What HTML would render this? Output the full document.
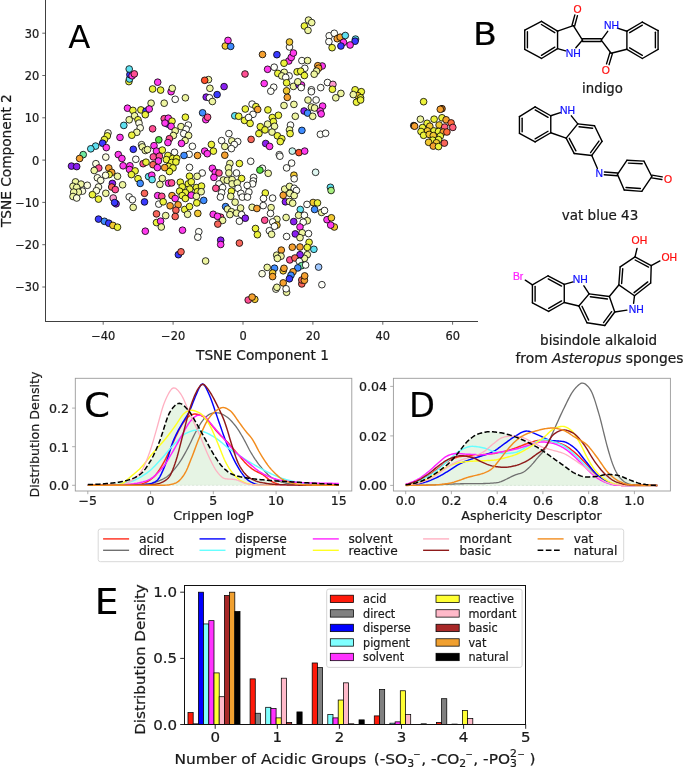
<!DOCTYPE html>
<html><head><meta charset="utf-8"><title>Figure</title>
<style>
html,body{margin:0;padding:0;background:#fff;}
body{width:685px;height:769px;overflow:hidden;font-family:'DejaVu Sans','Liberation Sans',sans-serif;}
svg{display:block;font-family:'DejaVu Sans','Liberation Sans',sans-serif;}
svg text{stroke-width:0.22px;}
.tx{stroke:#1a1a1a;}
</style></head><body>
<svg width="685" height="769" viewBox="0 0 685 769">
<rect width="685" height="769" fill="#fff"/>
<g id="panelA">
<line x1="45.5" y1="0" x2="45.5" y2="321.9" stroke="#404040" stroke-width="1"/>
<line x1="45.1" y1="321.5" x2="478" y2="321.5" stroke="#404040" stroke-width="1"/>
<line x1="103.2" y1="321.5" x2="103.2" y2="324.7" stroke="#404040" stroke-width="0.8"/>
<text class="tx" transform="translate(103.24,339.90)" font-size="11.4" text-anchor="middle" fill="#1a1a1a">−40</text>
<line x1="173.1" y1="321.5" x2="173.1" y2="324.7" stroke="#404040" stroke-width="0.8"/>
<text class="tx" transform="translate(173.12,339.90)" font-size="11.4" text-anchor="middle" fill="#1a1a1a">−20</text>
<line x1="243.0" y1="321.5" x2="243.0" y2="324.7" stroke="#404040" stroke-width="0.8"/>
<text class="tx" transform="translate(243.00,339.90)" font-size="11.4" text-anchor="middle" fill="#1a1a1a">0</text>
<line x1="312.9" y1="321.5" x2="312.9" y2="324.7" stroke="#404040" stroke-width="0.8"/>
<text class="tx" transform="translate(312.88,339.90)" font-size="11.4" text-anchor="middle" fill="#1a1a1a">20</text>
<line x1="382.8" y1="321.5" x2="382.8" y2="324.7" stroke="#404040" stroke-width="0.8"/>
<text class="tx" transform="translate(382.76,339.90)" font-size="11.4" text-anchor="middle" fill="#1a1a1a">40</text>
<line x1="452.6" y1="321.5" x2="452.6" y2="324.7" stroke="#404040" stroke-width="0.8"/>
<text class="tx" transform="translate(452.64,339.90)" font-size="11.4" text-anchor="middle" fill="#1a1a1a">60</text>
<line x1="42.3" y1="287.0" x2="45.5" y2="287.0" stroke="#404040" stroke-width="0.8"/>
<text class="tx" transform="translate(39.30,291.40)" font-size="11.4" text-anchor="end" fill="#1a1a1a">−30</text>
<line x1="42.3" y1="244.7" x2="45.5" y2="244.7" stroke="#404040" stroke-width="0.8"/>
<text class="tx" transform="translate(39.30,249.10)" font-size="11.4" text-anchor="end" fill="#1a1a1a">−20</text>
<line x1="42.3" y1="202.4" x2="45.5" y2="202.4" stroke="#404040" stroke-width="0.8"/>
<text class="tx" transform="translate(39.30,206.80)" font-size="11.4" text-anchor="end" fill="#1a1a1a">−10</text>
<line x1="42.3" y1="160.1" x2="45.5" y2="160.1" stroke="#404040" stroke-width="0.8"/>
<text class="tx" transform="translate(39.30,164.50)" font-size="11.4" text-anchor="end" fill="#1a1a1a">0</text>
<line x1="42.3" y1="117.8" x2="45.5" y2="117.8" stroke="#404040" stroke-width="0.8"/>
<text class="tx" transform="translate(39.30,122.20)" font-size="11.4" text-anchor="end" fill="#1a1a1a">10</text>
<line x1="42.3" y1="75.5" x2="45.5" y2="75.5" stroke="#404040" stroke-width="0.8"/>
<text class="tx" transform="translate(39.30,79.90)" font-size="11.4" text-anchor="end" fill="#1a1a1a">20</text>
<line x1="42.3" y1="33.2" x2="45.5" y2="33.2" stroke="#404040" stroke-width="0.8"/>
<text class="tx" transform="translate(39.30,37.60)" font-size="11.4" text-anchor="end" fill="#1a1a1a">30</text>
<text class="tx" transform="translate(262.50,359.90) scale(1.015,1)" font-size="13.5" text-anchor="middle" fill="#1a1a1a">TSNE Component 1</text>
<text class="tx" transform="translate(11.40,160.60) rotate(-90) scale(1.015,1)" font-size="13.5" text-anchor="middle" fill="#1a1a1a">TSNE Component 2</text>
<text x="68.3" y="47.6" font-size="32.3" fill="#000">A</text>
<g stroke="#000" stroke-width="0.8">
<circle cx="128.9" cy="81.6" r="3.35" fill="#ecf23c"/>
<circle cx="129.5" cy="79.0" r="3.35" fill="#5fe0f0"/>
<circle cx="129.9" cy="74.6" r="3.35" fill="#3a3aff"/>
<circle cx="132.1" cy="75.8" r="3.35" fill="#ff3aee"/>
<circle cx="134.3" cy="73.9" r="3.35" fill="#ff4f94"/>
<circle cx="129.2" cy="69.0" r="3.35" fill="#5fe0f0"/>
<circle cx="127.5" cy="108.2" r="3.35" fill="#ff3aee"/>
<circle cx="132.9" cy="110.4" r="3.35" fill="#ecf23c"/>
<circle cx="140.9" cy="109.9" r="3.35" fill="#ecf23c"/>
<circle cx="146.0" cy="111.1" r="3.35" fill="#3a3aff"/>
<circle cx="145.3" cy="114.7" r="3.35" fill="#ecf23c"/>
<circle cx="134.6" cy="115.8" r="3.35" fill="#eef5a0"/>
<circle cx="129.2" cy="119.8" r="3.35" fill="#eef5a0"/>
<circle cx="138.0" cy="119.8" r="3.35" fill="#ecf23c"/>
<circle cx="139.0" cy="123.1" r="3.35" fill="#fbfde0"/>
<circle cx="140.2" cy="127.9" r="3.35" fill="#fbfde0"/>
<circle cx="136.8" cy="132.3" r="3.35" fill="#eef5a0"/>
<circle cx="131.8" cy="135.2" r="3.35" fill="#ecf23c"/>
<circle cx="123.8" cy="125.4" r="3.35" fill="#5fe0f0"/>
<circle cx="108.0" cy="133.0" r="3.35" fill="#fbfde0"/>
<circle cx="107.3" cy="135.9" r="3.35" fill="#ecf23c"/>
<circle cx="104.4" cy="139.6" r="3.35" fill="#ecf23c"/>
<circle cx="102.6" cy="143.2" r="3.35" fill="#3a3aff"/>
<circle cx="106.3" cy="147.6" r="3.35" fill="#ff3aee"/>
<circle cx="95.6" cy="146.1" r="3.35" fill="#5fe0f0"/>
<circle cx="90.8" cy="148.8" r="3.35" fill="#5fe0f0"/>
<circle cx="120.0" cy="137.4" r="3.35" fill="#ff3aee"/>
<circle cx="133.3" cy="149.3" r="3.35" fill="#3a3aff"/>
<circle cx="141.6" cy="144.7" r="3.35" fill="#fbfde0"/>
<circle cx="142.3" cy="146.9" r="3.35" fill="#eef5a0"/>
<circle cx="145.3" cy="150.5" r="3.35" fill="#eef5a0"/>
<circle cx="83.2" cy="154.6" r="3.35" fill="#70e8a0"/>
<circle cx="79.6" cy="158.5" r="3.35" fill="#f5a030"/>
<circle cx="105.8" cy="157.1" r="3.35" fill="#fbfde0"/>
<circle cx="118.3" cy="154.6" r="3.35" fill="#ff3aee"/>
<circle cx="121.9" cy="158.5" r="3.35" fill="#ff3aee"/>
<circle cx="135.8" cy="159.3" r="3.35" fill="#fefffa"/>
<circle cx="71.5" cy="166.1" r="3.35" fill="#8a20f0"/>
<circle cx="76.7" cy="166.6" r="3.35" fill="#8a20f0"/>
<circle cx="95.9" cy="163.7" r="3.35" fill="#fbfde0"/>
<circle cx="98.8" cy="168.0" r="3.35" fill="#ff4f94"/>
<circle cx="94.2" cy="170.5" r="3.35" fill="#eef5a0"/>
<circle cx="108.8" cy="168.0" r="3.35" fill="#f5a030"/>
<circle cx="111.7" cy="172.4" r="3.35" fill="#f5a030"/>
<circle cx="109.1" cy="174.6" r="3.35" fill="#ecf23c"/>
<circle cx="105.6" cy="175.3" r="3.35" fill="#fbfde0"/>
<circle cx="117.5" cy="176.3" r="3.35" fill="#eef5a0"/>
<circle cx="97.4" cy="177.8" r="3.35" fill="#fbfde0"/>
<circle cx="100.7" cy="180.4" r="3.35" fill="#fbfde0"/>
<circle cx="123.1" cy="165.8" r="3.35" fill="#ff3aee"/>
<circle cx="129.9" cy="165.8" r="3.35" fill="#ff3aee"/>
<circle cx="129.5" cy="169.5" r="3.35" fill="#ff3aee"/>
<circle cx="135.1" cy="170.9" r="3.35" fill="#ecf23c"/>
<circle cx="131.4" cy="174.6" r="3.35" fill="#ecf23c"/>
<circle cx="138.0" cy="178.7" r="3.35" fill="#ecf23c"/>
<circle cx="140.2" cy="183.4" r="3.35" fill="#3f8cff"/>
<circle cx="143.1" cy="163.7" r="3.35" fill="#ff4f94"/>
<circle cx="146.0" cy="162.2" r="3.35" fill="#ecf23c"/>
<circle cx="122.6" cy="184.8" r="3.35" fill="#eef5a0"/>
<circle cx="112.4" cy="183.4" r="3.35" fill="#8a20f0"/>
<circle cx="111.7" cy="187.0" r="3.35" fill="#f8655a"/>
<circle cx="115.3" cy="189.6" r="3.35" fill="#ff4f94"/>
<circle cx="113.2" cy="198.0" r="3.35" fill="#ff9ad0"/>
<circle cx="116.1" cy="203.8" r="3.35" fill="#8a20f0"/>
<circle cx="114.6" cy="202.6" r="3.35" fill="#3a3aff"/>
<circle cx="105.8" cy="193.3" r="3.35" fill="#eef5a0"/>
<circle cx="98.5" cy="187.0" r="3.35" fill="#fbfde0"/>
<circle cx="96.4" cy="190.7" r="3.35" fill="#fbfde0"/>
<circle cx="92.4" cy="194.7" r="3.35" fill="#ecf23c"/>
<circle cx="98.5" cy="199.1" r="3.35" fill="#ecf23c"/>
<circle cx="75.5" cy="181.9" r="3.35" fill="#eef5a0"/>
<circle cx="73.0" cy="186.3" r="3.35" fill="#eef5a0"/>
<circle cx="81.0" cy="184.1" r="3.35" fill="#eef5a0"/>
<circle cx="76.7" cy="187.4" r="3.35" fill="#eef5a0"/>
<circle cx="87.3" cy="185.3" r="3.35" fill="#fbfde0"/>
<circle cx="82.5" cy="191.1" r="3.35" fill="#fbfde0"/>
<circle cx="78.4" cy="192.1" r="3.35" fill="#eef5a0"/>
<circle cx="73.7" cy="192.1" r="3.35" fill="#eef5a0"/>
<circle cx="73.0" cy="196.5" r="3.35" fill="#eef5a0"/>
<circle cx="76.7" cy="198.0" r="3.35" fill="#fbfde0"/>
<circle cx="129.2" cy="196.9" r="3.35" fill="#fefffa"/>
<circle cx="132.4" cy="199.7" r="3.35" fill="#fefffa"/>
<circle cx="133.2" cy="207.4" r="3.35" fill="#eef5a0"/>
<circle cx="144.5" cy="193.3" r="3.35" fill="#f8655a"/>
<circle cx="144.5" cy="201.9" r="3.35" fill="#3a3aff"/>
<circle cx="98.5" cy="219.1" r="3.35" fill="#3a3aff"/>
<circle cx="104.4" cy="221.3" r="3.35" fill="#3f8cff"/>
<circle cx="108.8" cy="223.2" r="3.35" fill="#3a3aff"/>
<circle cx="112.9" cy="225.4" r="3.35" fill="#f2c832"/>
<circle cx="117.5" cy="227.2" r="3.35" fill="#ecf23c"/>
<circle cx="145.3" cy="231.2" r="3.35" fill="#ff3aee"/>
<circle cx="225.3" cy="46.0" r="3.35" fill="#f2c832"/>
<circle cx="230.7" cy="46.4" r="3.35" fill="#3f8cff"/>
<circle cx="228.0" cy="40.4" r="3.35" fill="#ff3aee"/>
<circle cx="245.0" cy="74.0" r="3.35" fill="#ff4f94"/>
<circle cx="157.7" cy="82.2" r="3.35" fill="#ff3aee"/>
<circle cx="152.6" cy="89.0" r="3.35" fill="#ecf23c"/>
<circle cx="160.6" cy="90.1" r="3.35" fill="#ecf23c"/>
<circle cx="171.1" cy="91.7" r="3.35" fill="#ff3aee"/>
<circle cx="172.3" cy="88.3" r="3.35" fill="#eef5a0"/>
<circle cx="208.5" cy="79.6" r="3.35" fill="#eef5a0"/>
<circle cx="204.7" cy="80.3" r="3.35" fill="#ff5028"/>
<circle cx="209.9" cy="88.3" r="3.35" fill="#eef5a0"/>
<circle cx="224.1" cy="86.6" r="3.35" fill="#8a20f0"/>
<circle cx="217.1" cy="94.6" r="3.35" fill="#3a3aff"/>
<circle cx="206.2" cy="97.1" r="3.35" fill="#8a20f0"/>
<circle cx="209.5" cy="97.8" r="3.35" fill="#fefffa"/>
<circle cx="185.4" cy="97.8" r="3.35" fill="#eef5a0"/>
<circle cx="175.2" cy="99.3" r="3.35" fill="#fefffa"/>
<circle cx="151.1" cy="103.2" r="3.35" fill="#eef5a0"/>
<circle cx="149.2" cy="109.0" r="3.35" fill="#ff3aee"/>
<circle cx="164.2" cy="103.2" r="3.35" fill="#eef5a0"/>
<circle cx="212.4" cy="101.5" r="3.35" fill="#eef5a0"/>
<circle cx="202.6" cy="112.8" r="3.35" fill="#3f8cff"/>
<circle cx="205.8" cy="119.7" r="3.35" fill="#ff3aee"/>
<circle cx="207.6" cy="117.2" r="3.35" fill="#ff4f94"/>
<circle cx="185.4" cy="117.2" r="3.35" fill="#ecf23c"/>
<circle cx="234.8" cy="115.8" r="3.35" fill="#5fe0f0"/>
<circle cx="238.7" cy="116.3" r="3.35" fill="#ecf23c"/>
<circle cx="245.3" cy="109.0" r="3.35" fill="#ecf23c"/>
<circle cx="244.5" cy="120.4" r="3.35" fill="#ecf23c"/>
<circle cx="167.9" cy="124.1" r="3.35" fill="#3a3aff"/>
<circle cx="164.2" cy="118.7" r="3.35" fill="#ff4f94"/>
<circle cx="168.3" cy="118.2" r="3.35" fill="#ff3aee"/>
<circle cx="172.0" cy="121.2" r="3.35" fill="#ecf23c"/>
<circle cx="165.0" cy="123.1" r="3.35" fill="#ff3aee"/>
<circle cx="171.1" cy="126.3" r="3.35" fill="#ff3aee"/>
<circle cx="152.6" cy="128.8" r="3.35" fill="#ff4f94"/>
<circle cx="181.0" cy="126.6" r="3.35" fill="#eef5a0"/>
<circle cx="188.3" cy="125.1" r="3.35" fill="#fefffa"/>
<circle cx="186.2" cy="129.2" r="3.35" fill="#fefffa"/>
<circle cx="175.2" cy="130.9" r="3.35" fill="#eef5a0"/>
<circle cx="183.7" cy="133.6" r="3.35" fill="#fefffa"/>
<circle cx="188.6" cy="135.5" r="3.35" fill="#eef5a0"/>
<circle cx="173.4" cy="135.5" r="3.35" fill="#eef5a0"/>
<circle cx="169.4" cy="138.7" r="3.35" fill="#ff4f94"/>
<circle cx="167.9" cy="142.6" r="3.35" fill="#ff3aee"/>
<circle cx="185.1" cy="140.6" r="3.35" fill="#eef5a0"/>
<circle cx="181.5" cy="143.4" r="3.35" fill="#ff3aee"/>
<circle cx="158.8" cy="139.8" r="3.35" fill="#55e040"/>
<circle cx="154.0" cy="145.7" r="3.35" fill="#ff3aee"/>
<circle cx="156.5" cy="151.1" r="3.35" fill="#ff3aee"/>
<circle cx="162.3" cy="150.1" r="3.35" fill="#ecf23c"/>
<circle cx="147.5" cy="149.6" r="3.35" fill="#eef5a0"/>
<circle cx="192.4" cy="146.3" r="3.35" fill="#fefffa"/>
<circle cx="228.9" cy="133.6" r="3.35" fill="#fefffa"/>
<circle cx="221.6" cy="140.6" r="3.35" fill="#fefffa"/>
<circle cx="231.8" cy="140.9" r="3.35" fill="#eef5a0"/>
<circle cx="237.7" cy="141.6" r="3.35" fill="#fefffa"/>
<circle cx="234.3" cy="144.5" r="3.35" fill="#fefffa"/>
<circle cx="224.8" cy="146.4" r="3.35" fill="#eef5a0"/>
<circle cx="231.4" cy="148.6" r="3.35" fill="#fefffa"/>
<circle cx="211.4" cy="144.5" r="3.35" fill="#ecf23c"/>
<circle cx="213.4" cy="151.1" r="3.35" fill="#ecf23c"/>
<circle cx="204.7" cy="151.1" r="3.35" fill="#ff3aee"/>
<circle cx="207.3" cy="153.7" r="3.35" fill="#ff3aee"/>
<circle cx="174.5" cy="152.3" r="3.35" fill="#fefffa"/>
<circle cx="189.1" cy="154.3" r="3.35" fill="#fefffa"/>
<circle cx="184.0" cy="155.5" r="3.35" fill="#3f8cff"/>
<circle cx="197.5" cy="155.5" r="3.35" fill="#f5a030"/>
<circle cx="224.8" cy="155.2" r="3.35" fill="#f5a030"/>
<circle cx="167.9" cy="155.5" r="3.35" fill="#ecf23c"/>
<circle cx="172.7" cy="158.4" r="3.35" fill="#ecf23c"/>
<circle cx="176.7" cy="158.4" r="3.35" fill="#ecf23c"/>
<circle cx="166.4" cy="159.6" r="3.35" fill="#ecf23c"/>
<circle cx="171.6" cy="162.5" r="3.35" fill="#ecf23c"/>
<circle cx="175.9" cy="162.0" r="3.35" fill="#ecf23c"/>
<circle cx="168.6" cy="166.4" r="3.35" fill="#ecf23c"/>
<circle cx="173.0" cy="167.9" r="3.35" fill="#ecf23c"/>
<circle cx="169.4" cy="171.5" r="3.35" fill="#ecf23c"/>
<circle cx="153.3" cy="156.9" r="3.35" fill="#ff4f94"/>
<circle cx="159.4" cy="156.2" r="3.35" fill="#ff4f94"/>
<circle cx="158.4" cy="161.0" r="3.35" fill="#ff3aee"/>
<circle cx="153.0" cy="164.7" r="3.35" fill="#f8655a"/>
<circle cx="157.4" cy="167.6" r="3.35" fill="#ff3aee"/>
<circle cx="164.7" cy="167.6" r="3.35" fill="#f5a030"/>
<circle cx="189.5" cy="167.4" r="3.35" fill="#fefffa"/>
<circle cx="202.2" cy="173.0" r="3.35" fill="#fefffa"/>
<circle cx="197.1" cy="176.3" r="3.35" fill="#eef5a0"/>
<circle cx="189.5" cy="176.2" r="3.35" fill="#ecf23c"/>
<circle cx="212.4" cy="168.3" r="3.35" fill="#ff3aee"/>
<circle cx="215.3" cy="172.3" r="3.35" fill="#ff3aee"/>
<circle cx="219.0" cy="173.0" r="3.35" fill="#ff4f94"/>
<circle cx="213.9" cy="177.4" r="3.35" fill="#ff3aee"/>
<circle cx="239.4" cy="163.5" r="3.35" fill="#ecf23c"/>
<circle cx="229.9" cy="163.5" r="3.35" fill="#eef5a0"/>
<circle cx="228.5" cy="167.9" r="3.35" fill="#eef5a0"/>
<circle cx="236.5" cy="173.0" r="3.35" fill="#fefffa"/>
<circle cx="228.9" cy="173.0" r="3.35" fill="#eef5a0"/>
<circle cx="241.6" cy="178.5" r="3.35" fill="#ecf23c"/>
<circle cx="148.6" cy="176.6" r="3.35" fill="#5fe0f0"/>
<circle cx="151.8" cy="175.2" r="3.35" fill="#ff3aee"/>
<circle cx="152.1" cy="179.6" r="3.35" fill="#5fe0f0"/>
<circle cx="162.3" cy="178.5" r="3.35" fill="#eef5a0"/>
<circle cx="159.9" cy="184.4" r="3.35" fill="#eef5a0"/>
<circle cx="168.6" cy="183.2" r="3.35" fill="#ff3aee"/>
<circle cx="171.6" cy="182.9" r="3.35" fill="#ff4f94"/>
<circle cx="180.3" cy="182.2" r="3.35" fill="#ecf23c"/>
<circle cx="188.3" cy="183.9" r="3.35" fill="#ecf23c"/>
<circle cx="191.3" cy="181.8" r="3.35" fill="#ecf23c"/>
<circle cx="182.2" cy="186.9" r="3.35" fill="#ecf23c"/>
<circle cx="189.8" cy="189.1" r="3.35" fill="#ecf23c"/>
<circle cx="196.4" cy="187.6" r="3.35" fill="#ecf23c"/>
<circle cx="201.5" cy="186.1" r="3.35" fill="#ecf23c"/>
<circle cx="179.6" cy="191.2" r="3.35" fill="#ecf23c"/>
<circle cx="185.4" cy="192.7" r="3.35" fill="#ecf23c"/>
<circle cx="197.4" cy="191.7" r="3.35" fill="#ecf23c"/>
<circle cx="201.2" cy="191.7" r="3.35" fill="#eef5a0"/>
<circle cx="182.2" cy="195.6" r="3.35" fill="#ecf23c"/>
<circle cx="185.4" cy="198.5" r="3.35" fill="#ecf23c"/>
<circle cx="191.3" cy="195.2" r="3.35" fill="#ff3aee"/>
<circle cx="196.4" cy="196.3" r="3.35" fill="#eef5a0"/>
<circle cx="223.4" cy="180.0" r="3.35" fill="#eef5a0"/>
<circle cx="227.3" cy="180.3" r="3.35" fill="#eef5a0"/>
<circle cx="232.1" cy="179.6" r="3.35" fill="#eef5a0"/>
<circle cx="219.0" cy="183.9" r="3.35" fill="#fefffa"/>
<circle cx="222.6" cy="187.6" r="3.35" fill="#fefffa"/>
<circle cx="232.1" cy="183.9" r="3.35" fill="#eef5a0"/>
<circle cx="237.2" cy="182.9" r="3.35" fill="#eef5a0"/>
<circle cx="238.0" cy="188.3" r="3.35" fill="#fefffa"/>
<circle cx="215.8" cy="188.3" r="3.35" fill="#ff4f94"/>
<circle cx="231.4" cy="191.2" r="3.35" fill="#ecf23c"/>
<circle cx="221.6" cy="192.7" r="3.35" fill="#fefffa"/>
<circle cx="230.7" cy="196.3" r="3.35" fill="#eef5a0"/>
<circle cx="240.9" cy="193.4" r="3.35" fill="#fefffa"/>
<circle cx="242.3" cy="197.1" r="3.35" fill="#fefffa"/>
<circle cx="220.4" cy="197.1" r="3.35" fill="#fefffa"/>
<circle cx="157.7" cy="195.6" r="3.35" fill="#ff3aee"/>
<circle cx="161.8" cy="196.3" r="3.35" fill="#ff4f94"/>
<circle cx="172.0" cy="195.6" r="3.35" fill="#f5a030"/>
<circle cx="175.2" cy="198.5" r="3.35" fill="#ff3aee"/>
<circle cx="158.8" cy="204.1" r="3.35" fill="#fefffa"/>
<circle cx="163.2" cy="201.8" r="3.35" fill="#ecf23c"/>
<circle cx="170.1" cy="205.8" r="3.35" fill="#f5a030"/>
<circle cx="178.1" cy="204.8" r="3.35" fill="#f5a030"/>
<circle cx="175.9" cy="210.2" r="3.35" fill="#f8655a"/>
<circle cx="175.2" cy="216.5" r="3.35" fill="#f8655a"/>
<circle cx="156.5" cy="213.9" r="3.35" fill="#f8655a"/>
<circle cx="165.7" cy="215.6" r="3.35" fill="#eef5a0"/>
<circle cx="156.5" cy="222.6" r="3.35" fill="#ecf23c"/>
<circle cx="160.6" cy="221.2" r="3.35" fill="#ff3aee"/>
<circle cx="161.3" cy="227.0" r="3.35" fill="#eef5a0"/>
<circle cx="184.7" cy="209.5" r="3.35" fill="#ecf23c"/>
<circle cx="189.5" cy="206.6" r="3.35" fill="#ecf23c"/>
<circle cx="196.8" cy="202.9" r="3.35" fill="#ecf23c"/>
<circle cx="187.6" cy="214.3" r="3.35" fill="#eef5a0"/>
<circle cx="197.8" cy="213.4" r="3.35" fill="#f2c832"/>
<circle cx="203.7" cy="200.4" r="3.35" fill="#3f8cff"/>
<circle cx="182.5" cy="230.2" r="3.35" fill="#ff3aee"/>
<circle cx="198.8" cy="231.7" r="3.35" fill="#fefffa"/>
<circle cx="197.8" cy="237.2" r="3.35" fill="#fefffa"/>
<circle cx="213.2" cy="214.3" r="3.35" fill="#ff3aee"/>
<circle cx="220.7" cy="217.2" r="3.35" fill="#ff4f94"/>
<circle cx="217.5" cy="216.3" r="3.35" fill="#ff3aee"/>
<circle cx="222.6" cy="220.4" r="3.35" fill="#eef5a0"/>
<circle cx="217.8" cy="224.1" r="3.35" fill="#f8655a"/>
<circle cx="225.6" cy="206.6" r="3.35" fill="#3f8cff"/>
<circle cx="227.5" cy="209.1" r="3.35" fill="#eef5a0"/>
<circle cx="231.4" cy="211.7" r="3.35" fill="#eef5a0"/>
<circle cx="229.9" cy="214.6" r="3.35" fill="#eef5a0"/>
<circle cx="236.5" cy="213.1" r="3.35" fill="#eef5a0"/>
<circle cx="240.6" cy="208.0" r="3.35" fill="#eef5a0"/>
<circle cx="235.1" cy="202.2" r="3.35" fill="#eef5a0"/>
<circle cx="241.6" cy="214.6" r="3.35" fill="#fefffa"/>
<circle cx="239.4" cy="221.2" r="3.35" fill="#fefffa"/>
<circle cx="245.3" cy="218.2" r="3.35" fill="#8a20f0"/>
<circle cx="220.7" cy="240.2" r="3.35" fill="#8a20f0"/>
<circle cx="220.7" cy="244.5" r="3.35" fill="#ff3aee"/>
<circle cx="239.4" cy="243.1" r="3.35" fill="#f8655a"/>
<circle cx="178.4" cy="254.7" r="3.35" fill="#3a3aff"/>
<circle cx="181.0" cy="251.8" r="3.35" fill="#f8655a"/>
<circle cx="205.6" cy="261.0" r="3.35" fill="#eef5a0"/>
<circle cx="304.4" cy="26.0" r="3.35" fill="#ecf23c"/>
<circle cx="308.5" cy="20.1" r="3.35" fill="#eef5a0"/>
<circle cx="311.7" cy="22.6" r="3.35" fill="#eef5a0"/>
<circle cx="308.0" cy="30.4" r="3.35" fill="#eef5a0"/>
<circle cx="329.2" cy="35.8" r="3.35" fill="#fefffa"/>
<circle cx="334.3" cy="33.3" r="3.35" fill="#fefffa"/>
<circle cx="328.9" cy="41.6" r="3.35" fill="#fefffa"/>
<circle cx="332.1" cy="47.7" r="3.35" fill="#ecf23c"/>
<circle cx="337.2" cy="38.7" r="3.35" fill="#f5a030"/>
<circle cx="340.2" cy="37.2" r="3.35" fill="#f5a030"/>
<circle cx="345.3" cy="35.5" r="3.35" fill="#5fe0f0"/>
<circle cx="343.5" cy="42.3" r="3.35" fill="#ff3aee"/>
<circle cx="340.9" cy="46.0" r="3.35" fill="#3a3aff"/>
<circle cx="289.5" cy="47.0" r="3.35" fill="#fefffa"/>
<circle cx="289.5" cy="42.0" r="3.35" fill="#f2c832"/>
<circle cx="262.5" cy="54.5" r="3.35" fill="#f5a030"/>
<circle cx="276.9" cy="54.7" r="3.35" fill="#3a3aff"/>
<circle cx="288.8" cy="61.0" r="3.35" fill="#ff3aee"/>
<circle cx="291.3" cy="57.4" r="3.35" fill="#ff3aee"/>
<circle cx="293.4" cy="53.0" r="3.35" fill="#ff3aee"/>
<circle cx="284.0" cy="63.2" r="3.35" fill="#ecf23c"/>
<circle cx="301.9" cy="60.6" r="3.35" fill="#fefffa"/>
<circle cx="307.6" cy="60.6" r="3.35" fill="#eef5a0"/>
<circle cx="304.8" cy="68.3" r="3.35" fill="#fefffa"/>
<circle cx="297.1" cy="71.8" r="3.35" fill="#ecf23c"/>
<circle cx="300.7" cy="71.2" r="3.35" fill="#ecf23c"/>
<circle cx="304.4" cy="75.5" r="3.35" fill="#ecf23c"/>
<circle cx="267.6" cy="69.3" r="3.35" fill="#ff3aee"/>
<circle cx="274.2" cy="67.2" r="3.35" fill="#fefffa"/>
<circle cx="277.8" cy="73.4" r="3.35" fill="#ecf23c"/>
<circle cx="284.2" cy="72.3" r="3.35" fill="#eef5a0"/>
<circle cx="281.8" cy="75.9" r="3.35" fill="#eef5a0"/>
<circle cx="289.1" cy="75.9" r="3.35" fill="#fefffa"/>
<circle cx="285.7" cy="77.4" r="3.35" fill="#fefffa"/>
<circle cx="322.2" cy="66.0" r="3.35" fill="#ff3aee"/>
<circle cx="317.8" cy="65.7" r="3.35" fill="#f5a030"/>
<circle cx="318.6" cy="68.2" r="3.35" fill="#f5a030"/>
<circle cx="316.5" cy="71.1" r="3.35" fill="#eef5a0"/>
<circle cx="314.2" cy="74.2" r="3.35" fill="#eef5a0"/>
<circle cx="264.2" cy="83.5" r="3.35" fill="#ff3aee"/>
<circle cx="273.7" cy="87.2" r="3.35" fill="#fefffa"/>
<circle cx="270.8" cy="91.2" r="3.35" fill="#fefffa"/>
<circle cx="286.6" cy="82.8" r="3.35" fill="#ecf23c"/>
<circle cx="286.6" cy="90.8" r="3.35" fill="#f2c832"/>
<circle cx="287.3" cy="97.4" r="3.35" fill="#f5a030"/>
<circle cx="293.4" cy="86.4" r="3.35" fill="#eef5a0"/>
<circle cx="298.9" cy="84.7" r="3.35" fill="#8a20f0"/>
<circle cx="301.5" cy="85.0" r="3.35" fill="#ff3aee"/>
<circle cx="297.8" cy="81.8" r="3.35" fill="#eef5a0"/>
<circle cx="301.2" cy="87.6" r="3.35" fill="#fefffa"/>
<circle cx="311.4" cy="89.8" r="3.35" fill="#fefffa"/>
<circle cx="311.4" cy="91.7" r="3.35" fill="#fefffa"/>
<circle cx="320.7" cy="87.6" r="3.35" fill="#fefffa"/>
<circle cx="327.5" cy="82.5" r="3.35" fill="#fefffa"/>
<circle cx="332.9" cy="84.4" r="3.35" fill="#ff9ad0"/>
<circle cx="332.4" cy="89.3" r="3.35" fill="#ecf23c"/>
<circle cx="340.9" cy="93.4" r="3.35" fill="#eef5a0"/>
<circle cx="335.8" cy="97.8" r="3.35" fill="#eef5a0"/>
<circle cx="308.0" cy="100.0" r="3.35" fill="#eef5a0"/>
<circle cx="316.1" cy="100.0" r="3.35" fill="#fefffa"/>
<circle cx="252.1" cy="104.1" r="3.35" fill="#fefffa"/>
<circle cx="255.9" cy="106.6" r="3.35" fill="#ecf23c"/>
<circle cx="257.7" cy="109.5" r="3.35" fill="#f5a030"/>
<circle cx="253.0" cy="114.3" r="3.35" fill="#fefffa"/>
<circle cx="248.6" cy="117.5" r="3.35" fill="#fefffa"/>
<circle cx="250.1" cy="123.4" r="3.35" fill="#ecf23c"/>
<circle cx="267.9" cy="109.9" r="3.35" fill="#ecf23c"/>
<circle cx="284.0" cy="105.5" r="3.35" fill="#eef5a0"/>
<circle cx="293.9" cy="104.4" r="3.35" fill="#eef5a0"/>
<circle cx="295.3" cy="116.3" r="3.35" fill="#eef5a0"/>
<circle cx="278.4" cy="115.3" r="3.35" fill="#ecf23c"/>
<circle cx="272.3" cy="117.5" r="3.35" fill="#ecf23c"/>
<circle cx="273.4" cy="121.6" r="3.35" fill="#ecf23c"/>
<circle cx="267.6" cy="124.1" r="3.35" fill="#eef5a0"/>
<circle cx="274.5" cy="126.3" r="3.35" fill="#eef5a0"/>
<circle cx="260.3" cy="126.7" r="3.35" fill="#ecf23c"/>
<circle cx="265.0" cy="129.9" r="3.35" fill="#ecf23c"/>
<circle cx="258.9" cy="133.6" r="3.35" fill="#ecf23c"/>
<circle cx="272.0" cy="132.1" r="3.35" fill="#eef5a0"/>
<circle cx="277.4" cy="135.8" r="3.35" fill="#ecf23c"/>
<circle cx="281.8" cy="138.7" r="3.35" fill="#ecf23c"/>
<circle cx="280.3" cy="141.6" r="3.35" fill="#ecf23c"/>
<circle cx="251.1" cy="139.4" r="3.35" fill="#f8655a"/>
<circle cx="265.7" cy="143.5" r="3.35" fill="#8a20f0"/>
<circle cx="269.6" cy="146.4" r="3.35" fill="#ff3aee"/>
<circle cx="290.5" cy="125.1" r="3.35" fill="#fefffa"/>
<circle cx="289.5" cy="129.9" r="3.35" fill="#eef5a0"/>
<circle cx="290.1" cy="133.6" r="3.35" fill="#ecf23c"/>
<circle cx="301.9" cy="130.4" r="3.35" fill="#3f8cff"/>
<circle cx="320.4" cy="134.3" r="3.35" fill="#fefffa"/>
<circle cx="325.6" cy="133.3" r="3.35" fill="#fefffa"/>
<circle cx="311.4" cy="107.0" r="3.35" fill="#eef5a0"/>
<circle cx="314.6" cy="108.0" r="3.35" fill="#eef5a0"/>
<circle cx="304.1" cy="111.0" r="3.35" fill="#8a20f0"/>
<circle cx="307.6" cy="113.1" r="3.35" fill="#3f8cff"/>
<circle cx="312.7" cy="116.3" r="3.35" fill="#eef5a0"/>
<circle cx="322.6" cy="106.1" r="3.35" fill="#ff3aee"/>
<circle cx="320.2" cy="111.0" r="3.35" fill="#ff3aee"/>
<circle cx="321.2" cy="113.9" r="3.35" fill="#ff3aee"/>
<circle cx="292.3" cy="151.1" r="3.35" fill="#c8f4ee"/>
<circle cx="298.9" cy="152.6" r="3.35" fill="#ff5028"/>
<circle cx="304.7" cy="151.1" r="3.35" fill="#ff3aee"/>
<circle cx="279.3" cy="154.7" r="3.35" fill="#fefffa"/>
<circle cx="279.9" cy="156.2" r="3.35" fill="#fefffa"/>
<circle cx="250.7" cy="161.3" r="3.35" fill="#fefffa"/>
<circle cx="291.6" cy="163.1" r="3.35" fill="#fefffa"/>
<circle cx="286.6" cy="167.9" r="3.35" fill="#fefffa"/>
<circle cx="262.4" cy="168.3" r="3.35" fill="#fefffa"/>
<circle cx="259.9" cy="170.1" r="3.35" fill="#55e040"/>
<circle cx="268.2" cy="173.3" r="3.35" fill="#eef5a0"/>
<circle cx="315.6" cy="172.3" r="3.35" fill="#e0f8f2"/>
<circle cx="293.9" cy="175.2" r="3.35" fill="#f2c832"/>
<circle cx="294.2" cy="178.8" r="3.35" fill="#fefffa"/>
<circle cx="253.6" cy="177.4" r="3.35" fill="#fefffa"/>
<circle cx="253.3" cy="181.0" r="3.35" fill="#fefffa"/>
<circle cx="252.6" cy="183.9" r="3.35" fill="#fefffa"/>
<circle cx="247.2" cy="185.4" r="3.35" fill="#fefffa"/>
<circle cx="248.9" cy="192.0" r="3.35" fill="#fefffa"/>
<circle cx="247.5" cy="197.1" r="3.35" fill="#fefffa"/>
<circle cx="330.4" cy="187.3" r="3.35" fill="#5fe0f0"/>
<circle cx="331.1" cy="190.5" r="3.35" fill="#a8f080"/>
<circle cx="265.3" cy="193.0" r="3.35" fill="#ecf23c"/>
<circle cx="263.5" cy="198.5" r="3.35" fill="#fefffa"/>
<circle cx="272.6" cy="198.1" r="3.35" fill="#fefffa"/>
<circle cx="284.7" cy="189.1" r="3.35" fill="#eef5a0"/>
<circle cx="289.5" cy="186.4" r="3.35" fill="#eef5a0"/>
<circle cx="294.2" cy="188.3" r="3.35" fill="#fefffa"/>
<circle cx="296.4" cy="190.5" r="3.35" fill="#fefffa"/>
<circle cx="289.8" cy="193.4" r="3.35" fill="#eef5a0"/>
<circle cx="294.2" cy="195.6" r="3.35" fill="#eef5a0"/>
<circle cx="283.2" cy="195.3" r="3.35" fill="#f5a030"/>
<circle cx="285.4" cy="201.8" r="3.35" fill="#8a20f0"/>
<circle cx="289.5" cy="201.5" r="3.35" fill="#eef5a0"/>
<circle cx="313.1" cy="202.5" r="3.35" fill="#f2c832"/>
<circle cx="252.1" cy="207.3" r="3.35" fill="#eef5a0"/>
<circle cx="256.9" cy="208.5" r="3.35" fill="#f5a030"/>
<circle cx="263.2" cy="205.6" r="3.35" fill="#fefffa"/>
<circle cx="271.1" cy="207.6" r="3.35" fill="#eef5a0"/>
<circle cx="270.5" cy="213.4" r="3.35" fill="#fefffa"/>
<circle cx="292.7" cy="203.2" r="3.35" fill="#eef5a0"/>
<circle cx="264.7" cy="220.2" r="3.35" fill="#ff4f94"/>
<circle cx="276.9" cy="219.3" r="3.35" fill="#eef5a0"/>
<circle cx="272.7" cy="221.9" r="3.35" fill="#fefffa"/>
<circle cx="276.9" cy="225.1" r="3.35" fill="#f2c832"/>
<circle cx="274.5" cy="226.3" r="3.35" fill="#fefffa"/>
<circle cx="255.5" cy="228.5" r="3.35" fill="#ecf23c"/>
<circle cx="257.4" cy="234.7" r="3.35" fill="#ecf23c"/>
<circle cx="269.4" cy="230.7" r="3.35" fill="#fefffa"/>
<circle cx="271.6" cy="234.3" r="3.35" fill="#eef5a0"/>
<circle cx="286.1" cy="217.5" r="3.35" fill="#eef5a0"/>
<circle cx="286.6" cy="236.5" r="3.35" fill="#fefffa"/>
<circle cx="300.3" cy="209.5" r="3.35" fill="#5fe0f0"/>
<circle cx="298.6" cy="215.3" r="3.35" fill="#eef5a0"/>
<circle cx="304.4" cy="215.3" r="3.35" fill="#fefffa"/>
<circle cx="307.3" cy="220.7" r="3.35" fill="#eef5a0"/>
<circle cx="303.2" cy="222.2" r="3.35" fill="#fefffa"/>
<circle cx="293.7" cy="221.6" r="3.35" fill="#8a20f0"/>
<circle cx="300.0" cy="227.0" r="3.35" fill="#ff3aee"/>
<circle cx="295.3" cy="233.9" r="3.35" fill="#8a20f0"/>
<circle cx="302.2" cy="232.8" r="3.35" fill="#eef5a0"/>
<circle cx="308.5" cy="233.6" r="3.35" fill="#fefffa"/>
<circle cx="300.0" cy="237.7" r="3.35" fill="#eef5a0"/>
<circle cx="307.0" cy="204.4" r="3.35" fill="#fefffa"/>
<circle cx="317.5" cy="202.9" r="3.35" fill="#ecf23c"/>
<circle cx="314.6" cy="209.5" r="3.35" fill="#3f8cff"/>
<circle cx="321.6" cy="212.4" r="3.35" fill="#eef5a0"/>
<circle cx="324.5" cy="210.5" r="3.35" fill="#fefffa"/>
<circle cx="327.0" cy="219.7" r="3.35" fill="#ff3aee"/>
<circle cx="331.4" cy="217.8" r="3.35" fill="#f2c832"/>
<circle cx="334.3" cy="227.0" r="3.35" fill="#f2c832"/>
<circle cx="330.7" cy="225.1" r="3.35" fill="#ff3aee"/>
<circle cx="309.1" cy="242.3" r="3.35" fill="#ecf23c"/>
<circle cx="307.3" cy="247.4" r="3.35" fill="#ecf23c"/>
<circle cx="313.9" cy="249.3" r="3.35" fill="#5fe0f0"/>
<circle cx="292.3" cy="247.2" r="3.35" fill="#f5a030"/>
<circle cx="300.0" cy="247.0" r="3.35" fill="#f5a030"/>
<circle cx="281.3" cy="250.1" r="3.35" fill="#f5a030"/>
<circle cx="276.7" cy="255.2" r="3.35" fill="#eef5a0"/>
<circle cx="281.0" cy="256.2" r="3.35" fill="#eef5a0"/>
<circle cx="277.4" cy="258.4" r="3.35" fill="#eef5a0"/>
<circle cx="307.3" cy="254.7" r="3.35" fill="#eef5a0"/>
<circle cx="304.4" cy="258.4" r="3.35" fill="#eef5a0"/>
<circle cx="300.0" cy="254.7" r="3.35" fill="#8a20f0"/>
<circle cx="289.8" cy="259.9" r="3.35" fill="#ff4f94"/>
<circle cx="294.9" cy="258.0" r="3.35" fill="#f8655a"/>
<circle cx="299.3" cy="261.3" r="3.35" fill="#fefffa"/>
<circle cx="301.5" cy="265.7" r="3.35" fill="#70e8a0"/>
<circle cx="305.6" cy="265.0" r="3.35" fill="#fefffa"/>
<circle cx="297.8" cy="267.9" r="3.35" fill="#3f8cff"/>
<circle cx="318.6" cy="267.1" r="3.35" fill="#a0c8ff"/>
<circle cx="267.2" cy="267.4" r="3.35" fill="#eef5a0"/>
<circle cx="274.5" cy="268.2" r="3.35" fill="#3f8cff"/>
<circle cx="262.1" cy="273.7" r="3.35" fill="#fbfde0"/>
<circle cx="272.6" cy="273.0" r="3.35" fill="#f2c832"/>
<circle cx="272.6" cy="276.6" r="3.35" fill="#f5a030"/>
<circle cx="283.2" cy="270.8" r="3.35" fill="#f2c832"/>
<circle cx="284.0" cy="268.3" r="3.35" fill="#f5a030"/>
<circle cx="293.0" cy="271.8" r="3.35" fill="#f5a030"/>
<circle cx="291.0" cy="275.2" r="3.35" fill="#3f8cff"/>
<circle cx="289.4" cy="278.8" r="3.35" fill="#3a3aff"/>
<circle cx="301.8" cy="283.9" r="3.35" fill="#f8655a"/>
<circle cx="301.8" cy="280.0" r="3.35" fill="#f8655a"/>
<circle cx="304.4" cy="280.3" r="3.35" fill="#f5a030"/>
<circle cx="304.7" cy="275.9" r="3.35" fill="#f5a030"/>
<circle cx="283.2" cy="282.9" r="3.35" fill="#f5a030"/>
<circle cx="321.9" cy="284.7" r="3.35" fill="#fefffa"/>
<circle cx="275.9" cy="289.1" r="3.35" fill="#fbfde0"/>
<circle cx="276.9" cy="287.3" r="3.35" fill="#eef5a0"/>
<circle cx="286.6" cy="292.3" r="3.35" fill="#eef5a0"/>
<circle cx="286.1" cy="288.8" r="3.35" fill="#fefffa"/>
<circle cx="248.2" cy="300.0" r="3.35" fill="#ff4f94"/>
<circle cx="254.8" cy="299.3" r="3.35" fill="#f2c832"/>
<circle cx="252.1" cy="297.1" r="3.35" fill="#f5a030"/>
<circle cx="355.5" cy="39.1" r="3.35" fill="#5fe0f0"/>
<circle cx="355.1" cy="41.2" r="3.35" fill="#3a3aff"/>
<circle cx="350.1" cy="45.0" r="3.35" fill="#ff3aee"/>
<circle cx="355.1" cy="89.8" r="3.35" fill="#ecf23c"/>
<circle cx="361.3" cy="91.7" r="3.35" fill="#ecf23c"/>
<circle cx="357.7" cy="95.6" r="3.35" fill="#f2c832"/>
<circle cx="353.3" cy="94.6" r="3.35" fill="#eef5a0"/>
<circle cx="360.6" cy="97.8" r="3.35" fill="#ecf23c"/>
<circle cx="356.5" cy="102.2" r="3.35" fill="#ecf23c"/>
<circle cx="360.6" cy="100.0" r="3.35" fill="#ecf23c"/>
<circle cx="423.6" cy="101.7" r="3.35" fill="#ecf23c"/>
<circle cx="442.0" cy="108.7" r="3.35" fill="#c07020"/>
<circle cx="440.3" cy="109.3" r="3.35" fill="#f5a030"/>
<circle cx="420.4" cy="119.2" r="3.35" fill="#eef5a0"/>
<circle cx="434.1" cy="119.2" r="3.35" fill="#ecf23c"/>
<circle cx="442.0" cy="117.8" r="3.35" fill="#ecf23c"/>
<circle cx="446.1" cy="119.8" r="3.35" fill="#f5a030"/>
<circle cx="451.1" cy="122.9" r="3.35" fill="#ff6a3c"/>
<circle cx="413.8" cy="125.6" r="3.35" fill="#303030"/>
<circle cx="414.6" cy="126.2" r="3.35" fill="#f5a030"/>
<circle cx="427.1" cy="123.3" r="3.35" fill="#ecf23c"/>
<circle cx="422.5" cy="127.6" r="3.35" fill="#ecf23c"/>
<circle cx="429.8" cy="126.2" r="3.35" fill="#f2c832"/>
<circle cx="439.1" cy="125.0" r="3.35" fill="#f2c832"/>
<circle cx="444.7" cy="127.1" r="3.35" fill="#ff5f7c"/>
<circle cx="452.8" cy="127.4" r="3.35" fill="#ff5f7c"/>
<circle cx="433.9" cy="130.9" r="3.35" fill="#ecf23c"/>
<circle cx="427.4" cy="130.9" r="3.35" fill="#f2c832"/>
<circle cx="438.5" cy="131.5" r="3.35" fill="#ecf23c"/>
<circle cx="443.2" cy="132.0" r="3.35" fill="#f5a030"/>
<circle cx="446.9" cy="132.0" r="3.35" fill="#ff6a3c"/>
<circle cx="421.0" cy="131.5" r="3.35" fill="#ecf23c"/>
<circle cx="423.6" cy="135.3" r="3.35" fill="#ecf23c"/>
<circle cx="429.2" cy="134.4" r="3.35" fill="#f2c832"/>
<circle cx="433.3" cy="135.6" r="3.35" fill="#f2c832"/>
<circle cx="440.3" cy="136.1" r="3.35" fill="#ecf23c"/>
<circle cx="438.5" cy="139.6" r="3.35" fill="#ecf23c"/>
<circle cx="432.7" cy="140.2" r="3.35" fill="#ecf23c"/>
<circle cx="428.6" cy="142.3" r="3.35" fill="#f2c832"/>
<circle cx="436.4" cy="142.8" r="3.35" fill="#f2c832"/>
<circle cx="444.4" cy="143.1" r="3.35" fill="#f8655a"/>
<circle cx="433.3" cy="146.1" r="3.35" fill="#f5a030"/>
<circle cx="438.5" cy="146.6" r="3.35" fill="#ecf23c"/>
</g>
</g>
<g id="panelB">
<g stroke="#000" stroke-width="1.4" stroke-linecap="round" fill="none">
<line x1="524.72" y1="30.22" x2="541.47" y2="21.35"/>
<line x1="541.47" y1="21.35" x2="557.57" y2="31.21"/>
<line x1="541.43" y1="24.49" x2="554.79" y2="32.68"/>
<line x1="557.57" y1="31.21" x2="557.57" y2="48.62"/>
<line x1="557.57" y1="48.62" x2="541.47" y2="58.48"/>
<line x1="554.79" y1="47.15" x2="541.43" y2="55.34"/>
<line x1="541.47" y1="58.48" x2="524.72" y2="49.28"/>
<line x1="524.72" y1="49.28" x2="524.72" y2="30.22"/>
<line x1="527.42" y1="47.68" x2="527.42" y2="31.82"/>
<line x1="557.57" y1="31.21" x2="573.34" y2="25.62"/>
<line x1="573.34" y1="25.62" x2="582.54" y2="40.08"/>
<line x1="582.54" y1="40.08" x2="575.83" y2="47.81"/>
<line x1="565.63" y1="50.87" x2="557.57" y2="48.62"/>
<line x1="572.03" y1="25.27" x2="574.84" y2="14.91"/>
<line x1="574.64" y1="25.98" x2="577.45" y2="15.61"/>
<line x1="582.54" y1="38.73" x2="601.26" y2="38.73"/>
<line x1="582.54" y1="41.43" x2="601.26" y2="41.43"/>
<line x1="601.26" y1="40.08" x2="607.70" y2="31.35"/>
<line x1="617.45" y1="28.20" x2="626.89" y2="31.21"/>
<line x1="626.89" y1="31.21" x2="626.89" y2="49.28"/>
<line x1="626.89" y1="49.28" x2="611.12" y2="53.22"/>
<line x1="611.12" y1="53.22" x2="601.26" y2="40.08"/>
<line x1="612.41" y1="53.61" x2="609.09" y2="64.67"/>
<line x1="609.82" y1="52.83" x2="606.51" y2="63.89"/>
<line x1="626.89" y1="31.21" x2="642.33" y2="22.01"/>
<line x1="629.64" y1="32.71" x2="642.33" y2="25.15"/>
<line x1="642.33" y1="22.01" x2="658.09" y2="30.55"/>
<line x1="658.09" y1="30.55" x2="658.09" y2="49.28"/>
<line x1="655.39" y1="32.15" x2="655.39" y2="47.68"/>
<line x1="658.09" y1="49.28" x2="642.33" y2="58.48"/>
<line x1="642.33" y1="58.48" x2="626.89" y2="49.28"/>
<line x1="642.33" y1="55.34" x2="629.64" y2="47.78"/>
</g>
<text x="577.61" y="12.94" font-family="'Liberation Sans',sans-serif" font-size="10.4" text-anchor="middle" fill="#ff0d0d" stroke="#ff0d0d" stroke-width="0.2">O</text>
<text x="573.34" y="56.63" font-family="'Liberation Sans',sans-serif" font-size="10.4" text-anchor="middle" fill="#1010ff" stroke="#1010ff" stroke-width="0.2">NH</text>
<text x="611.45" y="29.37" font-family="'Liberation Sans',sans-serif" font-size="10.4" text-anchor="middle" fill="#1010ff" stroke="#1010ff" stroke-width="0.2">NH</text>
<text x="605.86" y="73.72" font-family="'Liberation Sans',sans-serif" font-size="10.4" text-anchor="middle" fill="#ff0d0d" stroke="#ff0d0d" stroke-width="0.2">O</text>
<text class="tx" x="602.5" y="92.6" font-size="13.3" text-anchor="middle" fill="#1a1a1a">indigo</text>
<g stroke="#000" stroke-width="1.4" stroke-linecap="round" fill="none">
<line x1="535.11" y1="106.84" x2="550.77" y2="115.75"/>
<line x1="535.16" y1="109.98" x2="548.04" y2="117.31"/>
<line x1="550.77" y1="115.75" x2="550.77" y2="132.77"/>
<line x1="550.77" y1="132.77" x2="535.11" y2="141.95"/>
<line x1="548.02" y1="131.25" x2="535.12" y2="138.81"/>
<line x1="535.11" y1="141.95" x2="519.44" y2="133.31"/>
<line x1="519.44" y1="133.31" x2="519.44" y2="116.56"/>
<line x1="522.14" y1="131.71" x2="522.14" y2="118.16"/>
<line x1="519.44" y1="116.56" x2="535.11" y2="106.84"/>
<line x1="550.77" y1="115.75" x2="560.33" y2="112.57"/>
<line x1="571.35" y1="115.82" x2="577.77" y2="123.86"/>
<line x1="577.77" y1="123.86" x2="594.52" y2="125.75"/>
<line x1="579.06" y1="126.72" x2="592.63" y2="128.25"/>
<line x1="594.52" y1="125.75" x2="602.08" y2="141.41"/>
<line x1="602.08" y1="141.41" x2="591.82" y2="155.45"/>
<line x1="598.96" y1="141.11" x2="590.58" y2="152.57"/>
<line x1="591.82" y1="155.45" x2="574.26" y2="153.56"/>
<line x1="574.26" y1="153.56" x2="566.16" y2="138.17"/>
<line x1="575.91" y1="150.89" x2="569.30" y2="138.33"/>
<line x1="566.16" y1="138.17" x2="577.77" y2="123.86"/>
<line x1="550.77" y1="132.77" x2="566.16" y2="138.17"/>
<line x1="591.82" y1="155.45" x2="597.40" y2="168.41"/>
<line x1="604.47" y1="172.03" x2="617.57" y2="173.01"/>
<line x1="604.26" y1="174.72" x2="617.37" y2="175.70"/>
<line x1="617.47" y1="174.35" x2="626.92" y2="160.31"/>
<line x1="626.92" y1="160.31" x2="643.94" y2="161.12"/>
<line x1="628.39" y1="163.09" x2="642.21" y2="163.74"/>
<line x1="643.94" y1="161.12" x2="651.77" y2="176.52"/>
<line x1="651.77" y1="176.52" x2="641.78" y2="191.37"/>
<line x1="641.78" y1="191.37" x2="624.22" y2="190.02"/>
<line x1="640.39" y1="188.55" x2="626.03" y2="187.45"/>
<line x1="624.22" y1="190.02" x2="617.47" y2="174.35"/>
<line x1="651.99" y1="175.18" x2="662.28" y2="176.90"/>
<line x1="651.55" y1="177.85" x2="661.83" y2="179.56"/>
</g>
<text x="567.51" y="113.83" font-family="'Liberation Sans',sans-serif" font-size="10.4" text-anchor="middle" fill="#1010ff" stroke="#1010ff" stroke-width="0.2">NH</text>
<text x="599.38" y="176.75" font-family="'Liberation Sans',sans-serif" font-size="10.4" text-anchor="middle" fill="#1010ff" stroke="#1010ff" stroke-width="0.2">N</text>
<text x="667.97" y="182.96" font-family="'Liberation Sans',sans-serif" font-size="10.4" text-anchor="middle" fill="#ff0d0d" stroke="#ff0d0d" stroke-width="0.2">O</text>
<text class="tx" x="600" y="220.4" font-size="13.5" text-anchor="middle" fill="#1a1a1a">vat blue 43</text>
<g stroke="#000" stroke-width="1.4" stroke-linecap="round" fill="none">
<line x1="532.41" y1="284.95" x2="548.07" y2="275.77"/>
<line x1="548.07" y1="275.77" x2="564.27" y2="284.41"/>
<line x1="548.21" y1="278.90" x2="561.59" y2="286.04"/>
<line x1="564.27" y1="284.41" x2="564.27" y2="302.50"/>
<line x1="564.27" y1="302.50" x2="548.61" y2="311.42"/>
<line x1="561.55" y1="300.95" x2="548.66" y2="308.28"/>
<line x1="548.61" y1="311.42" x2="532.41" y2="302.77"/>
<line x1="532.41" y1="302.77" x2="532.41" y2="284.95"/>
<line x1="535.11" y1="301.17" x2="535.11" y2="286.55"/>
<line x1="532.41" y1="284.95" x2="525.27" y2="280.19"/>
<line x1="564.27" y1="284.41" x2="573.03" y2="281.85"/>
<line x1="583.88" y1="285.85" x2="589.12" y2="293.86"/>
<line x1="589.12" y1="293.86" x2="609.37" y2="296.56"/>
<line x1="590.35" y1="296.75" x2="607.43" y2="299.03"/>
<line x1="609.37" y1="296.56" x2="614.77" y2="311.96"/>
<line x1="614.77" y1="311.96" x2="604.78" y2="325.46"/>
<line x1="611.65" y1="311.64" x2="603.56" y2="322.57"/>
<line x1="604.78" y1="325.46" x2="586.96" y2="322.76"/>
<line x1="586.96" y1="322.76" x2="578.85" y2="306.02"/>
<line x1="588.69" y1="320.14" x2="581.98" y2="306.28"/>
<line x1="578.85" y1="306.02" x2="589.12" y2="293.86"/>
<line x1="564.27" y1="302.50" x2="578.85" y2="306.02"/>
<line x1="609.37" y1="296.56" x2="618.82" y2="284.95"/>
<line x1="618.82" y1="284.95" x2="634.49" y2="295.75"/>
<line x1="634.49" y1="295.75" x2="633.58" y2="303.30"/>
<line x1="626.93" y1="310.14" x2="614.77" y2="311.96"/>
<line x1="618.82" y1="284.95" x2="620.17" y2="266.86"/>
<line x1="621.63" y1="283.56" x2="622.75" y2="268.65"/>
<line x1="620.17" y1="266.86" x2="635.03" y2="256.87"/>
<line x1="635.03" y1="256.87" x2="651.23" y2="265.51"/>
<line x1="635.17" y1="260.00" x2="648.55" y2="267.14"/>
<line x1="651.23" y1="265.51" x2="650.69" y2="283.06"/>
<line x1="650.69" y1="283.06" x2="634.49" y2="295.75"/>
<line x1="647.76" y1="281.92" x2="634.08" y2="292.64"/>
<line x1="635.03" y1="256.87" x2="637.05" y2="248.42"/>
<line x1="651.23" y1="265.51" x2="659.94" y2="260.98"/>
</g>
<text x="518.09" y="279.51" font-family="'Liberation Sans',sans-serif" font-size="10.4" text-anchor="middle" fill="#ff22ff" stroke="#ff22ff" stroke-width="0.2">Br</text>
<text x="580.21" y="283.29" font-family="'Liberation Sans',sans-serif" font-size="10.4" text-anchor="middle" fill="#1010ff" stroke="#1010ff" stroke-width="0.2">NH</text>
<text x="636.38" y="313.27" font-family="'Liberation Sans',sans-serif" font-size="10.4" text-anchor="middle" fill="#1010ff" stroke="#1010ff" stroke-width="0.2">NH</text>
<text x="639.35" y="244.14" font-family="'Liberation Sans',sans-serif" font-size="10.4" text-anchor="middle" fill="#ff0d0d" stroke="#ff0d0d" stroke-width="0.2">OH</text>
<text x="669.32" y="261.15" font-family="'Liberation Sans',sans-serif" font-size="10.4" text-anchor="middle" fill="#ff0d0d" stroke="#ff0d0d" stroke-width="0.2">OH</text>
<text class="tx" x="598.6" y="345.2" font-size="13.5" text-anchor="middle" fill="#1a1a1a">bisindole alkaloid</text>
<text class="tx" x="599.5" y="362.7" font-size="13.5" text-anchor="middle" textLength="168" lengthAdjust="spacingAndGlyphs" fill="#1a1a1a">from <tspan font-style="italic">Asteropus</tspan> sponges</text>
<text class="tx" transform="translate(473.00,45.20) scale(1.08,1)" font-size="32.3" text-anchor="start" fill="#000">B</text>
</g>
<g id="panelC">
<rect x="75.3" y="378.3" width="276.5" height="112.69999999999999" fill="#fff" stroke="#9a9a9a" stroke-width="0.9"/>
<path d="M87.85,484.53 L89.00,484.52 L90.14,484.50 L91.29,484.48 L92.43,484.45 L93.58,484.42 L94.73,484.37 L95.87,484.32 L97.02,484.26 L98.17,484.20 L99.31,484.13 L100.46,484.06 L101.60,483.98 L102.75,483.89 L103.90,483.80 L105.04,483.71 L106.19,483.61 L107.33,483.51 L108.48,483.41 L109.63,483.30 L110.77,483.19 L111.92,483.08 L113.06,482.97 L114.21,482.84 L115.36,482.70 L116.50,482.54 L117.65,482.37 L118.80,482.18 L119.94,481.97 L121.09,481.75 L122.23,481.51 L123.38,481.26 L124.53,480.99 L125.67,480.71 L126.82,480.41 L127.96,480.10 L129.11,479.77 L130.26,479.41 L131.40,479.02 L132.55,478.59 L133.69,478.11 L134.84,477.57 L135.99,476.99 L137.13,476.34 L138.28,475.64 L139.43,474.87 L140.57,474.01 L141.72,473.02 L142.86,471.88 L144.01,470.58 L145.16,469.12 L146.30,467.54 L147.45,465.85 L148.59,464.07 L149.74,462.22 L150.89,460.28 L152.03,458.22 L153.18,456.01 L154.32,453.64 L155.47,451.12 L156.62,448.48 L157.76,445.76 L158.91,442.94 L160.06,439.97 L161.20,436.77 L162.35,433.31 L163.49,429.67 L164.64,425.96 L165.79,422.34 L166.93,418.95 L168.08,415.94 L169.22,413.40 L170.37,411.33 L171.52,409.61 L172.66,408.09 L173.81,406.72 L174.96,405.51 L176.10,404.52 L177.25,403.80 L178.39,403.40 L179.54,403.34 L180.69,403.60 L181.83,404.16 L182.98,404.94 L184.12,405.90 L185.27,406.99 L186.42,408.15 L187.56,409.38 L188.71,410.73 L189.85,412.25 L191.00,413.96 L192.15,415.83 L193.29,417.81 L194.44,419.84 L195.59,421.86 L196.73,423.88 L197.88,425.89 L199.02,427.92 L200.17,429.98 L201.32,432.06 L202.46,434.15 L203.61,436.25 L204.75,438.34 L205.90,440.44 L207.05,442.56 L208.19,444.69 L209.34,446.83 L210.48,448.93 L211.63,450.99 L212.78,452.96 L213.92,454.86 L215.07,456.69 L216.22,458.46 L217.36,460.20 L218.51,461.86 L219.65,463.45 L220.80,464.92 L221.95,466.27 L223.09,467.49 L224.24,468.62 L225.38,469.68 L226.53,470.68 L227.68,471.59 L228.82,472.42 L229.97,473.15 L231.11,473.78 L232.26,474.31 L233.41,474.77 L234.55,475.19 L235.70,475.56 L236.85,475.91 L237.99,476.22 L239.14,476.51 L240.28,476.78 L241.43,477.02 L242.58,477.25 L243.72,477.46 L244.87,477.66 L246.01,477.84 L247.16,478.00 L248.31,478.16 L249.45,478.31 L250.60,478.46 L251.74,478.60 L252.89,478.74 L254.04,478.88 L255.18,479.01 L256.33,479.14 L257.48,479.27 L258.62,479.39 L259.77,479.52 L260.91,479.64 L262.06,479.75 L263.21,479.87 L264.35,479.98 L265.50,480.08 L266.64,480.19 L267.79,480.29 L268.94,480.39 L270.08,480.49 L271.23,480.58 L272.38,480.67 L273.52,480.76 L274.67,480.84 L275.81,480.92 L276.96,481.00 L278.11,481.08 L279.25,481.15 L280.40,481.22 L281.54,481.29 L282.69,481.36 L283.84,481.43 L284.98,481.49 L286.13,481.56 L287.27,481.63 L288.42,481.69 L289.57,481.75 L290.71,481.82 L291.86,481.88 L293.01,481.95 L294.15,482.02 L295.30,482.08 L296.44,482.15 L297.59,482.22 L298.74,482.29 L299.88,482.36 L301.03,482.43 L302.17,482.50 L303.32,482.57 L304.47,482.64 L305.61,482.71 L306.76,482.78 L307.90,482.85 L309.05,482.92 L310.20,482.99 L311.34,483.06 L312.49,483.13 L313.64,483.20 L314.78,483.27 L315.93,483.35 L317.07,483.42 L318.22,483.49 L319.37,483.56 L320.51,483.63 L321.66,483.70 L322.80,483.77 L323.95,483.85 L325.10,483.92 L326.24,483.99 L327.39,484.06 L328.53,484.14 L329.68,484.21 L330.83,484.28 L331.97,484.35 L333.12,484.43 L334.27,484.50 L335.41,484.58 L336.56,484.65 L337.70,484.72 L338.85,484.77 L338.85,485.30 L87.85,485.30 Z" fill="#e6f4e4" stroke="none"/>
<line x1="87.8" y1="485.3" x2="338.9" y2="485.3" stroke="#c8dcc8" stroke-width="0.6" stroke-dasharray="2.5,1.5"/>
<path d="M87.85,485.30 L89.00,485.30 L90.14,485.30 L91.29,485.30 L92.43,485.30 L93.58,485.30 L94.73,485.30 L95.87,485.30 L97.02,485.29 L98.17,485.29 L99.31,485.29 L100.46,485.29 L101.60,485.29 L102.75,485.28 L103.90,485.28 L105.04,485.28 L106.19,485.28 L107.33,485.27 L108.48,485.27 L109.63,485.26 L110.77,485.26 L111.92,485.26 L113.06,485.25 L114.21,485.25 L115.36,485.24 L116.50,485.24 L117.65,485.23 L118.80,485.22 L119.94,485.22 L121.09,485.21 L122.23,485.20 L123.38,485.20 L124.53,485.19 L125.67,485.18 L126.82,485.16 L127.96,485.13 L129.11,485.09 L130.26,485.04 L131.40,484.98 L132.55,484.91 L133.69,484.83 L134.84,484.74 L135.99,484.64 L137.13,484.52 L138.28,484.40 L139.43,484.27 L140.57,484.10 L141.72,483.88 L142.86,483.57 L144.01,483.18 L145.16,482.70 L146.30,482.14 L147.45,481.51 L148.59,480.82 L149.74,480.08 L150.89,479.29 L152.03,478.44 L153.18,477.51 L154.32,476.44 L155.47,475.20 L156.62,473.79 L157.76,472.22 L158.91,470.53 L160.06,468.73 L161.20,466.85 L162.35,464.90 L163.49,462.90 L164.64,460.85 L165.79,458.69 L166.93,456.38 L168.08,453.92 L169.22,451.34 L170.37,448.70 L171.52,446.06 L172.66,443.48 L173.81,440.96 L174.96,438.48 L176.10,436.02 L177.25,433.57 L178.39,431.18 L179.54,428.90 L180.69,426.78 L181.83,424.84 L182.98,423.09 L184.12,421.47 L185.27,419.98 L186.42,418.63 L187.56,417.45 L188.71,416.49 L189.85,415.71 L191.00,415.09 L192.15,414.59 L193.29,414.23 L194.44,414.04 L195.59,414.03 L196.73,414.17 L197.88,414.43 L199.02,414.77 L200.17,415.19 L201.32,415.67 L202.46,416.26 L203.61,417.00 L204.75,417.89 L205.90,418.91 L207.05,420.02 L208.19,421.17 L209.34,422.38 L210.48,423.66 L211.63,425.02 L212.78,426.45 L213.92,427.90 L215.07,429.35 L216.22,430.74 L217.36,432.07 L218.51,433.33 L219.65,434.51 L220.80,435.65 L221.95,436.75 L223.09,437.85 L224.24,438.94 L225.38,440.05 L226.53,441.18 L227.68,442.36 L228.82,443.59 L229.97,444.87 L231.11,446.18 L232.26,447.53 L233.41,448.89 L234.55,450.27 L235.70,451.64 L236.85,453.01 L237.99,454.36 L239.14,455.71 L240.28,457.07 L241.43,458.43 L242.58,459.79 L243.72,461.12 L244.87,462.39 L246.01,463.60 L247.16,464.72 L248.31,465.77 L249.45,466.75 L250.60,467.68 L251.74,468.56 L252.89,469.38 L254.04,470.14 L255.18,470.82 L256.33,471.43 L257.48,471.99 L258.62,472.52 L259.77,473.04 L260.91,473.61 L262.06,474.24 L263.21,474.96 L264.35,475.79 L265.50,476.71 L266.64,477.67 L267.79,478.64 L268.94,479.57 L270.08,480.42 L271.23,481.16 L272.38,481.78 L273.52,482.32 L274.67,482.82 L275.81,483.27 L276.96,483.69 L278.11,484.07 L279.25,484.38 L280.40,484.63 L281.54,484.80 L282.69,484.90 L283.84,484.97 L284.98,485.01 L286.13,485.05 L287.27,485.09 L288.42,485.12 L289.57,485.15 L290.71,485.18 L291.86,485.21 L293.01,485.23 L294.15,485.25 L295.30,485.26 L296.44,485.27 L297.59,485.28 L298.74,485.29 L299.88,485.30 L301.03,485.30 L302.17,485.30 L303.32,485.30 L304.47,485.30 L305.61,485.30 L306.76,485.30 L307.90,485.30 L309.05,485.30 L310.20,485.30 L311.34,485.30 L312.49,485.30 L313.64,485.30 L314.78,485.30 L315.93,485.30 L317.07,485.30 L318.22,485.30 L319.37,485.30 L320.51,485.30 L321.66,485.30 L322.80,485.30 L323.95,485.30 L325.10,485.30 L326.24,485.30 L327.39,485.30 L328.53,485.30 L329.68,485.30 L330.83,485.30 L331.97,485.30 L333.12,485.30 L334.27,485.30 L335.41,485.30 L336.56,485.30 L337.70,485.30 L338.85,485.30" fill="none" stroke="#ff2a1a" stroke-width="1.45" stroke-linejoin="round"/>
<path d="M87.85,485.30 L89.00,485.30 L90.14,485.30 L91.29,485.30 L92.43,485.30 L93.58,485.30 L94.73,485.30 L95.87,485.29 L97.02,485.29 L98.17,485.29 L99.31,485.29 L100.46,485.29 L101.60,485.28 L102.75,485.28 L103.90,485.28 L105.04,485.27 L106.19,485.27 L107.33,485.27 L108.48,485.26 L109.63,485.26 L110.77,485.25 L111.92,485.25 L113.06,485.24 L114.21,485.23 L115.36,485.23 L116.50,485.22 L117.65,485.22 L118.80,485.21 L119.94,485.20 L121.09,485.19 L122.23,485.19 L123.38,485.18 L124.53,485.17 L125.67,485.16 L126.82,485.15 L127.96,485.14 L129.11,485.13 L130.26,485.12 L131.40,485.11 L132.55,485.09 L133.69,485.07 L134.84,485.04 L135.99,484.99 L137.13,484.94 L138.28,484.88 L139.43,484.82 L140.57,484.74 L141.72,484.66 L142.86,484.57 L144.01,484.47 L145.16,484.37 L146.30,484.25 L147.45,484.13 L148.59,483.98 L149.74,483.79 L150.89,483.56 L152.03,483.29 L153.18,482.98 L154.32,482.64 L155.47,482.26 L156.62,481.85 L157.76,481.40 L158.91,480.92 L160.06,480.42 L161.20,479.89 L162.35,479.34 L163.49,478.76 L164.64,478.14 L165.79,477.45 L166.93,476.68 L168.08,475.79 L169.22,474.79 L170.37,473.69 L171.52,472.50 L172.66,471.24 L173.81,469.92 L174.96,468.55 L176.10,467.13 L177.25,465.67 L178.39,464.12 L179.54,462.47 L180.69,460.71 L181.83,458.85 L182.98,456.89 L184.12,454.88 L185.27,452.82 L186.42,450.72 L187.56,448.58 L188.71,446.38 L189.85,444.08 L191.00,441.70 L192.15,439.28 L193.29,436.87 L194.44,434.53 L195.59,432.30 L196.73,430.19 L197.88,428.16 L199.02,426.18 L200.17,424.27 L201.32,422.45 L202.46,420.78 L203.61,419.30 L204.75,418.03 L205.90,416.94 L207.05,415.98 L208.19,415.13 L209.34,414.39 L210.48,413.80 L211.63,413.39 L212.78,413.12 L213.92,412.96 L215.07,412.86 L216.22,412.80 L217.36,412.80 L218.51,412.90 L219.65,413.14 L220.80,413.52 L221.95,414.02 L223.09,414.62 L224.24,415.27 L225.38,415.98 L226.53,416.73 L227.68,417.56 L228.82,418.51 L229.97,419.58 L231.11,420.75 L232.26,422.01 L233.41,423.34 L234.55,424.73 L235.70,426.19 L236.85,427.75 L237.99,429.42 L239.14,431.19 L240.28,433.05 L241.43,434.97 L242.58,436.95 L243.72,438.99 L244.87,441.11 L246.01,443.32 L247.16,445.58 L248.31,447.81 L249.45,449.95 L250.60,451.97 L251.74,453.89 L252.89,455.76 L254.04,457.57 L255.18,459.32 L256.33,460.99 L257.48,462.59 L258.62,464.11 L259.77,465.56 L260.91,466.95 L262.06,468.30 L263.21,469.62 L264.35,470.91 L265.50,472.15 L266.64,473.32 L267.79,474.43 L268.94,475.45 L270.08,476.38 L271.23,477.21 L272.38,477.94 L273.52,478.60 L274.67,479.20 L275.81,479.76 L276.96,480.29 L278.11,480.79 L279.25,481.25 L280.40,481.67 L281.54,482.05 L282.69,482.40 L283.84,482.71 L284.98,482.99 L286.13,483.25 L287.27,483.50 L288.42,483.74 L289.57,483.96 L290.71,484.17 L291.86,484.36 L293.01,484.53 L294.15,484.67 L295.30,484.78 L296.44,484.86 L297.59,484.91 L298.74,484.94 L299.88,484.96 L301.03,484.98 L302.17,485.01 L303.32,485.03 L304.47,485.04 L305.61,485.06 L306.76,485.08 L307.90,485.10 L309.05,485.11 L310.20,485.13 L311.34,485.14 L312.49,485.16 L313.64,485.17 L314.78,485.18 L315.93,485.19 L317.07,485.20 L318.22,485.22 L319.37,485.22 L320.51,485.23 L321.66,485.24 L322.80,485.25 L323.95,485.26 L325.10,485.26 L326.24,485.27 L327.39,485.28 L328.53,485.28 L329.68,485.28 L330.83,485.29 L331.97,485.29 L333.12,485.29 L334.27,485.30 L335.41,485.30 L336.56,485.30 L337.70,485.30 L338.85,485.30" fill="none" stroke="#707070" stroke-width="1.3" stroke-linejoin="round"/>
<path d="M87.85,485.30 L89.00,485.30 L90.14,485.30 L91.29,485.30 L92.43,485.30 L93.58,485.30 L94.73,485.30 L95.87,485.30 L97.02,485.30 L98.17,485.29 L99.31,485.29 L100.46,485.29 L101.60,485.29 L102.75,485.29 L103.90,485.29 L105.04,485.28 L106.19,485.28 L107.33,485.28 L108.48,485.28 L109.63,485.27 L110.77,485.27 L111.92,485.27 L113.06,485.26 L114.21,485.26 L115.36,485.25 L116.50,485.25 L117.65,485.24 L118.80,485.24 L119.94,485.23 L121.09,485.23 L122.23,485.22 L123.38,485.22 L124.53,485.21 L125.67,485.20 L126.82,485.20 L127.96,485.19 L129.11,485.18 L130.26,485.17 L131.40,485.16 L132.55,485.15 L133.69,485.15 L134.84,485.14 L135.99,485.13 L137.13,485.11 L138.28,485.09 L139.43,485.05 L140.57,484.98 L141.72,484.89 L142.86,484.77 L144.01,484.63 L145.16,484.48 L146.30,484.31 L147.45,484.13 L148.59,483.93 L149.74,483.70 L150.89,483.43 L152.03,483.11 L153.18,482.73 L154.32,482.29 L155.47,481.72 L156.62,480.94 L157.76,479.81 L158.91,478.28 L160.06,476.35 L161.20,474.12 L162.35,471.68 L163.49,469.11 L164.64,466.41 L165.79,463.52 L166.93,460.34 L168.08,456.88 L169.22,453.21 L170.37,449.50 L171.52,445.92 L172.66,442.61 L173.81,439.63 L174.96,436.98 L176.10,434.57 L177.25,432.32 L178.39,430.19 L179.54,428.13 L180.69,426.12 L181.83,424.13 L182.98,422.17 L184.12,420.26 L185.27,418.41 L186.42,416.55 L187.56,414.63 L188.71,412.55 L189.85,410.24 L191.00,407.64 L192.15,404.81 L193.29,401.85 L194.44,398.91 L195.59,396.08 L196.73,393.37 L197.88,390.73 L199.02,388.22 L200.17,386.05 L201.32,384.54 L202.46,383.97 L203.61,384.40 L204.75,385.71 L205.90,387.65 L207.05,389.96 L208.19,392.44 L209.34,395.04 L210.48,397.79 L211.63,400.77 L212.78,403.95 L213.92,407.28 L215.07,410.66 L216.22,414.04 L217.36,417.38 L218.51,420.68 L219.65,423.99 L220.80,427.31 L221.95,430.63 L223.09,433.90 L224.24,437.08 L225.38,440.15 L226.53,443.08 L227.68,445.90 L228.82,448.62 L229.97,451.27 L231.11,453.82 L232.26,456.28 L233.41,458.63 L234.55,460.88 L235.70,463.04 L236.85,465.11 L237.99,467.12 L239.14,469.05 L240.28,470.89 L241.43,472.61 L242.58,474.20 L243.72,475.66 L244.87,477.01 L246.01,478.26 L247.16,479.38 L248.31,480.35 L249.45,481.17 L250.60,481.85 L251.74,482.44 L252.89,482.97 L254.04,483.46 L255.18,483.89 L256.33,484.25 L257.48,484.54 L258.62,484.74 L259.77,484.88 L260.91,484.96 L262.06,485.01 L263.21,485.06 L264.35,485.10 L265.50,485.14 L266.64,485.17 L267.79,485.20 L268.94,485.22 L270.08,485.25 L271.23,485.26 L272.38,485.28 L273.52,485.29 L274.67,485.29 L275.81,485.30 L276.96,485.30 L278.11,485.30 L279.25,485.30 L280.40,485.30 L281.54,485.30 L282.69,485.30 L283.84,485.30 L284.98,485.30 L286.13,485.30 L287.27,485.30 L288.42,485.30 L289.57,485.30 L290.71,485.30 L291.86,485.30 L293.01,485.30 L294.15,485.30 L295.30,485.30 L296.44,485.30 L297.59,485.30 L298.74,485.30 L299.88,485.30 L301.03,485.30 L302.17,485.30 L303.32,485.30 L304.47,485.30 L305.61,485.30 L306.76,485.30 L307.90,485.30 L309.05,485.30 L310.20,485.30 L311.34,485.30 L312.49,485.30 L313.64,485.30 L314.78,485.30 L315.93,485.30 L317.07,485.30 L318.22,485.30 L319.37,485.30 L320.51,485.30 L321.66,485.30 L322.80,485.30 L323.95,485.30 L325.10,485.30 L326.24,485.30 L327.39,485.30 L328.53,485.30 L329.68,485.30 L330.83,485.30 L331.97,485.30 L333.12,485.30 L334.27,485.30 L335.41,485.30 L336.56,485.30 L337.70,485.30 L338.85,485.30" fill="none" stroke="#0000ff" stroke-width="1.45" stroke-linejoin="round"/>
<path d="M87.85,485.30 L89.00,485.30 L90.14,485.30 L91.29,485.29 L92.43,485.29 L93.58,485.28 L94.73,485.27 L95.87,485.26 L97.02,485.25 L98.17,485.23 L99.31,485.22 L100.46,485.20 L101.60,485.18 L102.75,485.16 L103.90,485.14 L105.04,485.11 L106.19,485.09 L107.33,485.06 L108.48,485.04 L109.63,485.01 L110.77,484.98 L111.92,484.94 L113.06,484.90 L114.21,484.84 L115.36,484.75 L116.50,484.64 L117.65,484.50 L118.80,484.34 L119.94,484.15 L121.09,483.94 L122.23,483.72 L123.38,483.47 L124.53,483.22 L125.67,482.94 L126.82,482.66 L127.96,482.37 L129.11,482.06 L130.26,481.74 L131.40,481.38 L132.55,480.99 L133.69,480.55 L134.84,480.06 L135.99,479.53 L137.13,478.96 L138.28,478.36 L139.43,477.72 L140.57,477.06 L141.72,476.36 L142.86,475.64 L144.01,474.90 L145.16,474.14 L146.30,473.35 L147.45,472.54 L148.59,471.68 L149.74,470.75 L150.89,469.75 L152.03,468.69 L153.18,467.57 L154.32,466.40 L155.47,465.20 L156.62,463.98 L157.76,462.74 L158.91,461.49 L160.06,460.25 L161.20,459.00 L162.35,457.74 L163.49,456.46 L164.64,455.14 L165.79,453.80 L166.93,452.44 L168.08,451.08 L169.22,449.72 L170.37,448.39 L171.52,447.09 L172.66,445.82 L173.81,444.59 L174.96,443.37 L176.10,442.14 L177.25,440.90 L178.39,439.67 L179.54,438.47 L180.69,437.32 L181.83,436.25 L182.98,435.28 L184.12,434.43 L185.27,433.71 L186.42,433.10 L187.56,432.57 L188.71,432.08 L189.85,431.63 L191.00,431.21 L192.15,430.85 L193.29,430.56 L194.44,430.34 L195.59,430.21 L196.73,430.18 L197.88,430.26 L199.02,430.43 L200.17,430.70 L201.32,431.03 L202.46,431.40 L203.61,431.80 L204.75,432.22 L205.90,432.66 L207.05,433.14 L208.19,433.66 L209.34,434.24 L210.48,434.86 L211.63,435.52 L212.78,436.21 L213.92,436.93 L215.07,437.67 L216.22,438.43 L217.36,439.22 L218.51,440.04 L219.65,440.91 L220.80,441.84 L221.95,442.81 L223.09,443.80 L224.24,444.80 L225.38,445.78 L226.53,446.74 L227.68,447.65 L228.82,448.52 L229.97,449.35 L231.11,450.16 L232.26,450.94 L233.41,451.72 L234.55,452.48 L235.70,453.23 L236.85,453.98 L237.99,454.73 L239.14,455.48 L240.28,456.22 L241.43,456.96 L242.58,457.69 L243.72,458.41 L244.87,459.13 L246.01,459.84 L247.16,460.55 L248.31,461.25 L249.45,461.94 L250.60,462.63 L251.74,463.32 L252.89,464.00 L254.04,464.67 L255.18,465.34 L256.33,466.00 L257.48,466.65 L258.62,467.29 L259.77,467.92 L260.91,468.54 L262.06,469.16 L263.21,469.77 L264.35,470.37 L265.50,470.97 L266.64,471.56 L267.79,472.14 L268.94,472.70 L270.08,473.25 L271.23,473.79 L272.38,474.31 L273.52,474.82 L274.67,475.33 L275.81,475.83 L276.96,476.33 L278.11,476.81 L279.25,477.27 L280.40,477.72 L281.54,478.15 L282.69,478.56 L283.84,478.94 L284.98,479.29 L286.13,479.63 L287.27,479.94 L288.42,480.25 L289.57,480.54 L290.71,480.82 L291.86,481.08 L293.01,481.34 L294.15,481.58 L295.30,481.81 L296.44,482.03 L297.59,482.24 L298.74,482.44 L299.88,482.64 L301.03,482.84 L302.17,483.03 L303.32,483.22 L304.47,483.40 L305.61,483.57 L306.76,483.73 L307.90,483.88 L309.05,484.00 L310.20,484.12 L311.34,484.21 L312.49,484.29 L313.64,484.35 L314.78,484.41 L315.93,484.47 L317.07,484.53 L318.22,484.58 L319.37,484.63 L320.51,484.68 L321.66,484.73 L322.80,484.77 L323.95,484.82 L325.10,484.86 L326.24,484.89 L327.39,484.93 L328.53,484.96 L329.68,484.99 L330.83,485.02 L331.97,485.04 L333.12,485.06 L334.27,485.07 L335.41,485.09 L336.56,485.10 L337.70,485.10 L338.85,485.11" fill="none" stroke="#66ffff" stroke-width="1.45" stroke-linejoin="round"/>
<path d="M87.85,485.30 L89.00,485.30 L90.14,485.29 L91.29,485.29 L92.43,485.28 L93.58,485.27 L94.73,485.26 L95.87,485.25 L97.02,485.23 L98.17,485.22 L99.31,485.20 L100.46,485.18 L101.60,485.16 L102.75,485.14 L103.90,485.12 L105.04,485.09 L106.19,485.07 L107.33,485.04 L108.48,485.02 L109.63,484.99 L110.77,484.97 L111.92,484.94 L113.06,484.91 L114.21,484.88 L115.36,484.85 L116.50,484.82 L117.65,484.78 L118.80,484.74 L119.94,484.70 L121.09,484.65 L122.23,484.60 L123.38,484.55 L124.53,484.49 L125.67,484.42 L126.82,484.36 L127.96,484.28 L129.11,484.20 L130.26,484.11 L131.40,484.01 L132.55,483.89 L133.69,483.75 L134.84,483.58 L135.99,483.40 L137.13,483.20 L138.28,482.97 L139.43,482.73 L140.57,482.46 L141.72,482.18 L142.86,481.88 L144.01,481.55 L145.16,481.21 L146.30,480.84 L147.45,480.43 L148.59,479.96 L149.74,479.39 L150.89,478.72 L152.03,477.96 L153.18,477.10 L154.32,476.17 L155.47,475.16 L156.62,474.10 L157.76,472.98 L158.91,471.83 L160.06,470.63 L161.20,469.38 L162.35,468.05 L163.49,466.61 L164.64,465.03 L165.79,463.33 L166.93,461.53 L168.08,459.65 L169.22,457.71 L170.37,455.74 L171.52,453.75 L172.66,451.77 L173.81,449.79 L174.96,447.79 L176.10,445.74 L177.25,443.66 L178.39,441.55 L179.54,439.45 L180.69,437.37 L181.83,435.32 L182.98,433.29 L184.12,431.26 L185.27,429.22 L186.42,427.19 L187.56,425.25 L188.71,423.46 L189.85,421.85 L191.00,420.46 L192.15,419.22 L193.29,418.10 L194.44,417.09 L195.59,416.24 L196.73,415.62 L197.88,415.27 L199.02,415.16 L200.17,415.22 L201.32,415.38 L202.46,415.62 L203.61,416.00 L204.75,416.61 L205.90,417.51 L207.05,418.68 L208.19,420.07 L209.34,421.57 L210.48,423.08 L211.63,424.54 L212.78,425.92 L213.92,427.25 L215.07,428.56 L216.22,429.87 L217.36,431.18 L218.51,432.50 L219.65,433.82 L220.80,435.15 L221.95,436.47 L223.09,437.80 L224.24,439.14 L225.38,440.51 L226.53,441.89 L227.68,443.27 L228.82,444.65 L229.97,446.01 L231.11,447.34 L232.26,448.63 L233.41,449.87 L234.55,451.05 L235.70,452.17 L236.85,453.24 L237.99,454.26 L239.14,455.24 L240.28,456.20 L241.43,457.13 L242.58,458.04 L243.72,458.95 L244.87,459.86 L246.01,460.78 L247.16,461.71 L248.31,462.66 L249.45,463.62 L250.60,464.60 L251.74,465.58 L252.89,466.56 L254.04,467.52 L255.18,468.45 L256.33,469.35 L257.48,470.20 L258.62,471.00 L259.77,471.75 L260.91,472.46 L262.06,473.13 L263.21,473.78 L264.35,474.41 L265.50,475.01 L266.64,475.59 L267.79,476.13 L268.94,476.64 L270.08,477.12 L271.23,477.56 L272.38,477.96 L273.52,478.34 L274.67,478.70 L275.81,479.05 L276.96,479.37 L278.11,479.68 L279.25,479.98 L280.40,480.24 L281.54,480.49 L282.69,480.70 L283.84,480.89 L284.98,481.05 L286.13,481.20 L287.27,481.34 L288.42,481.47 L289.57,481.60 L290.71,481.72 L291.86,481.84 L293.01,481.95 L294.15,482.05 L295.30,482.16 L296.44,482.25 L297.59,482.35 L298.74,482.43 L299.88,482.51 L301.03,482.59 L302.17,482.66 L303.32,482.72 L304.47,482.78 L305.61,482.83 L306.76,482.88 L307.90,482.92 L309.05,482.96 L310.20,482.99 L311.34,483.01 L312.49,483.04 L313.64,483.07 L314.78,483.09 L315.93,483.11 L317.07,483.14 L318.22,483.16 L319.37,483.18 L320.51,483.20 L321.66,483.22 L322.80,483.24 L323.95,483.25 L325.10,483.27 L326.24,483.28 L327.39,483.30 L328.53,483.31 L329.68,483.32 L330.83,483.33 L331.97,483.34 L333.12,483.35 L334.27,483.36 L335.41,483.36 L336.56,483.37 L337.70,483.37 L338.85,483.37" fill="none" stroke="#ff22ff" stroke-width="1.45" stroke-linejoin="round"/>
<path d="M87.85,485.30 L89.00,485.30 L90.14,485.30 L91.29,485.30 L92.43,485.30 L93.58,485.29 L94.73,485.29 L95.87,485.29 L97.02,485.28 L98.17,485.28 L99.31,485.27 L100.46,485.27 L101.60,485.26 L102.75,485.25 L103.90,485.24 L105.04,485.23 L106.19,485.23 L107.33,485.21 L108.48,485.20 L109.63,485.19 L110.77,485.17 L111.92,485.14 L113.06,485.09 L114.21,485.02 L115.36,484.93 L116.50,484.83 L117.65,484.70 L118.80,484.56 L119.94,484.36 L121.09,484.06 L122.23,483.58 L123.38,482.91 L124.53,482.07 L125.67,481.11 L126.82,480.08 L127.96,479.03 L129.11,478.01 L130.26,477.03 L131.40,476.09 L132.55,475.17 L133.69,474.24 L134.84,473.29 L135.99,472.32 L137.13,471.32 L138.28,470.28 L139.43,469.20 L140.57,468.06 L141.72,466.85 L142.86,465.57 L144.01,464.22 L145.16,462.82 L146.30,461.38 L147.45,459.91 L148.59,458.44 L149.74,456.97 L150.89,455.53 L152.03,454.13 L153.18,452.77 L154.32,451.45 L155.47,450.15 L156.62,448.88 L157.76,447.61 L158.91,446.35 L160.06,445.09 L161.20,443.81 L162.35,442.51 L163.49,441.18 L164.64,439.81 L165.79,438.42 L166.93,436.98 L168.08,435.51 L169.22,434.02 L170.37,432.51 L171.52,430.97 L172.66,429.43 L173.81,427.87 L174.96,426.29 L176.10,424.65 L177.25,422.93 L178.39,421.13 L179.54,419.33 L180.69,417.58 L181.83,415.98 L182.98,414.60 L184.12,413.45 L185.27,412.50 L186.42,411.70 L187.56,411.03 L188.71,410.53 L189.85,410.23 L191.00,410.15 L192.15,410.24 L193.29,410.45 L194.44,410.76 L195.59,411.14 L196.73,411.58 L197.88,412.08 L199.02,412.64 L200.17,413.29 L201.32,414.10 L202.46,415.10 L203.61,416.31 L204.75,417.70 L205.90,419.23 L207.05,420.87 L208.19,422.62 L209.34,424.52 L210.48,426.61 L211.63,428.92 L212.78,431.42 L213.92,434.07 L215.07,436.78 L216.22,439.52 L217.36,442.26 L218.51,445.03 L219.65,447.88 L220.80,450.79 L221.95,453.71 L223.09,456.56 L224.24,459.24 L225.38,461.70 L226.53,463.92 L227.68,465.94 L228.82,467.80 L229.97,469.54 L231.11,471.17 L232.26,472.68 L233.41,474.06 L234.55,475.32 L235.70,476.48 L236.85,477.55 L237.99,478.55 L239.14,479.48 L240.28,480.32 L241.43,481.07 L242.58,481.72 L243.72,482.27 L244.87,482.75 L246.01,483.17 L247.16,483.53 L248.31,483.83 L249.45,484.06 L250.60,484.24 L251.74,484.39 L252.89,484.53 L254.04,484.66 L255.18,484.77 L256.33,484.88 L257.48,484.97 L258.62,485.05 L259.77,485.11 L260.91,485.16 L262.06,485.19 L263.21,485.21 L264.35,485.22 L265.50,485.23 L266.64,485.23 L267.79,485.23 L268.94,485.24 L270.08,485.24 L271.23,485.24 L272.38,485.24 L273.52,485.25 L274.67,485.25 L275.81,485.25 L276.96,485.25 L278.11,485.26 L279.25,485.26 L280.40,485.26 L281.54,485.26 L282.69,485.26 L283.84,485.26 L284.98,485.27 L286.13,485.27 L287.27,485.27 L288.42,485.27 L289.57,485.27 L290.71,485.27 L291.86,485.28 L293.01,485.28 L294.15,485.28 L295.30,485.28 L296.44,485.28 L297.59,485.28 L298.74,485.28 L299.88,485.28 L301.03,485.29 L302.17,485.29 L303.32,485.29 L304.47,485.29 L305.61,485.29 L306.76,485.29 L307.90,485.29 L309.05,485.29 L310.20,485.29 L311.34,485.29 L312.49,485.29 L313.64,485.29 L314.78,485.30 L315.93,485.30 L317.07,485.30 L318.22,485.30 L319.37,485.30 L320.51,485.30 L321.66,485.30 L322.80,485.30 L323.95,485.30 L325.10,485.30 L326.24,485.30 L327.39,485.30 L328.53,485.30 L329.68,485.30 L330.83,485.30 L331.97,485.30 L333.12,485.30 L334.27,485.30 L335.41,485.30 L336.56,485.30 L337.70,485.30 L338.85,485.30" fill="none" stroke="#ffff22" stroke-width="1.45" stroke-linejoin="round"/>
<path d="M87.85,485.30 L89.00,485.30 L90.14,485.30 L91.29,485.30 L92.43,485.30 L93.58,485.29 L94.73,485.29 L95.87,485.29 L97.02,485.29 L98.17,485.28 L99.31,485.28 L100.46,485.27 L101.60,485.27 L102.75,485.26 L103.90,485.25 L105.04,485.25 L106.19,485.24 L107.33,485.23 L108.48,485.22 L109.63,485.21 L110.77,485.20 L111.92,485.19 L113.06,485.18 L114.21,485.15 L115.36,485.12 L116.50,485.07 L117.65,485.00 L118.80,484.93 L119.94,484.83 L121.09,484.73 L122.23,484.59 L123.38,484.39 L124.53,484.09 L125.67,483.69 L126.82,483.17 L127.96,482.58 L129.11,481.95 L130.26,481.29 L131.40,480.59 L132.55,479.85 L133.69,479.06 L134.84,478.19 L135.99,477.24 L137.13,476.20 L138.28,475.07 L139.43,473.81 L140.57,472.37 L141.72,470.69 L142.86,468.70 L144.01,466.41 L145.16,463.87 L146.30,461.11 L147.45,458.22 L148.59,455.19 L149.74,452.00 L150.89,448.58 L152.03,444.92 L153.18,441.07 L154.32,437.13 L155.47,433.15 L156.62,429.13 L157.76,425.01 L158.91,420.78 L160.06,416.52 L161.20,412.37 L162.35,408.48 L163.49,404.99 L164.64,401.94 L165.79,399.25 L166.93,396.78 L168.08,394.47 L169.22,392.36 L170.37,390.54 L171.52,389.12 L172.66,388.21 L173.81,387.84 L174.96,388.02 L176.10,388.67 L177.25,389.67 L178.39,390.92 L179.54,392.34 L180.69,393.93 L181.83,395.75 L182.98,397.87 L184.12,400.29 L185.27,402.94 L186.42,405.72 L187.56,408.50 L188.71,411.21 L189.85,413.82 L191.00,416.33 L192.15,418.79 L193.29,421.24 L194.44,423.68 L195.59,426.13 L196.73,428.60 L197.88,431.09 L199.02,433.63 L200.17,436.24 L201.32,438.92 L202.46,441.68 L203.61,444.49 L204.75,447.30 L205.90,450.07 L207.05,452.74 L208.19,455.30 L209.34,457.75 L210.48,460.12 L211.63,462.44 L212.78,464.68 L213.92,466.81 L215.07,468.78 L216.22,470.56 L217.36,472.14 L218.51,473.58 L219.65,474.90 L220.80,476.10 L221.95,477.14 L223.09,477.93 L224.24,478.46 L225.38,478.76 L226.53,478.93 L227.68,479.02 L228.82,479.09 L229.97,479.14 L231.11,479.20 L232.26,479.26 L233.41,479.35 L234.55,479.48 L235.70,479.69 L236.85,480.00 L237.99,480.41 L239.14,480.89 L240.28,481.39 L241.43,481.88 L242.58,482.33 L243.72,482.77 L244.87,483.19 L246.01,483.59 L247.16,483.95 L248.31,484.23 L249.45,484.44 L250.60,484.59 L251.74,484.69 L252.89,484.77 L254.04,484.85 L255.18,484.92 L256.33,484.98 L257.48,485.03 L258.62,485.08 L259.77,485.12 L260.91,485.15 L262.06,485.17 L263.21,485.18 L264.35,485.19 L265.50,485.19 L266.64,485.20 L267.79,485.20 L268.94,485.20 L270.08,485.21 L271.23,485.21 L272.38,485.21 L273.52,485.22 L274.67,485.22 L275.81,485.22 L276.96,485.23 L278.11,485.23 L279.25,485.23 L280.40,485.24 L281.54,485.24 L282.69,485.24 L283.84,485.25 L284.98,485.25 L286.13,485.25 L287.27,485.25 L288.42,485.26 L289.57,485.26 L290.71,485.26 L291.86,485.26 L293.01,485.26 L294.15,485.27 L295.30,485.27 L296.44,485.27 L297.59,485.27 L298.74,485.27 L299.88,485.28 L301.03,485.28 L302.17,485.28 L303.32,485.28 L304.47,485.28 L305.61,485.28 L306.76,485.28 L307.90,485.29 L309.05,485.29 L310.20,485.29 L311.34,485.29 L312.49,485.29 L313.64,485.29 L314.78,485.29 L315.93,485.29 L317.07,485.29 L318.22,485.29 L319.37,485.29 L320.51,485.30 L321.66,485.30 L322.80,485.30 L323.95,485.30 L325.10,485.30 L326.24,485.30 L327.39,485.30 L328.53,485.30 L329.68,485.30 L330.83,485.30 L331.97,485.30 L333.12,485.30 L334.27,485.30 L335.41,485.30 L336.56,485.30 L337.70,485.30 L338.85,485.30" fill="none" stroke="#ffb0c2" stroke-width="1.3" stroke-linejoin="round"/>
<path d="M87.85,485.30 L89.00,485.30 L90.14,485.30 L91.29,485.30 L92.43,485.30 L93.58,485.30 L94.73,485.30 L95.87,485.30 L97.02,485.30 L98.17,485.30 L99.31,485.30 L100.46,485.30 L101.60,485.30 L102.75,485.29 L103.90,485.29 L105.04,485.29 L106.19,485.29 L107.33,485.29 L108.48,485.29 L109.63,485.29 L110.77,485.29 L111.92,485.28 L113.06,485.28 L114.21,485.28 L115.36,485.28 L116.50,485.28 L117.65,485.27 L118.80,485.27 L119.94,485.27 L121.09,485.27 L122.23,485.26 L123.38,485.26 L124.53,485.26 L125.67,485.26 L126.82,485.25 L127.96,485.25 L129.11,485.25 L130.26,485.24 L131.40,485.24 L132.55,485.23 L133.69,485.23 L134.84,485.23 L135.99,485.22 L137.13,485.22 L138.28,485.21 L139.43,485.21 L140.57,485.20 L141.72,485.20 L142.86,485.19 L144.01,485.18 L145.16,485.16 L146.30,485.13 L147.45,485.08 L148.59,485.00 L149.74,484.91 L150.89,484.81 L152.03,484.69 L153.18,484.55 L154.32,484.41 L155.47,484.24 L156.62,484.05 L157.76,483.81 L158.91,483.50 L160.06,483.12 L161.20,482.67 L162.35,482.14 L163.49,481.53 L164.64,480.85 L165.79,480.08 L166.93,479.22 L168.08,478.19 L169.22,476.85 L170.37,475.05 L171.52,472.76 L172.66,470.04 L173.81,467.03 L174.96,463.79 L176.10,460.31 L177.25,456.49 L178.39,452.34 L179.54,447.93 L180.69,443.41 L181.83,438.92 L182.98,434.47 L184.12,430.03 L185.27,425.58 L186.42,421.13 L187.56,416.78 L188.71,412.62 L189.85,408.75 L191.00,405.20 L192.15,401.93 L193.29,398.90 L194.44,396.08 L195.59,393.50 L196.73,391.21 L197.88,389.20 L199.02,387.44 L200.17,385.96 L201.32,384.86 L202.46,384.33 L203.61,384.46 L204.75,385.21 L205.90,386.40 L207.05,387.87 L208.19,389.45 L209.34,391.11 L210.48,392.86 L211.63,394.75 L212.78,396.77 L213.92,398.90 L215.07,401.12 L216.22,403.38 L217.36,405.66 L218.51,407.96 L219.65,410.29 L220.80,412.69 L221.95,415.20 L223.09,417.87 L224.24,420.75 L225.38,423.92 L226.53,427.41 L227.68,431.16 L228.82,435.04 L229.97,438.92 L231.11,442.71 L232.26,446.38 L233.41,449.97 L234.55,453.47 L235.70,456.82 L236.85,459.89 L237.99,462.61 L239.14,464.99 L240.28,467.08 L241.43,468.96 L242.58,470.67 L243.72,472.21 L244.87,473.59 L246.01,474.83 L247.16,475.92 L248.31,476.88 L249.45,477.71 L250.60,478.42 L251.74,479.07 L252.89,479.66 L254.04,480.21 L255.18,480.71 L256.33,481.16 L257.48,481.55 L258.62,481.89 L259.77,482.18 L260.91,482.43 L262.06,482.66 L263.21,482.88 L264.35,483.08 L265.50,483.27 L266.64,483.45 L267.79,483.62 L268.94,483.77 L270.08,483.91 L271.23,484.04 L272.38,484.16 L273.52,484.26 L274.67,484.36 L275.81,484.43 L276.96,484.50 L278.11,484.56 L279.25,484.61 L280.40,484.66 L281.54,484.71 L282.69,484.76 L283.84,484.80 L284.98,484.84 L286.13,484.88 L287.27,484.92 L288.42,484.95 L289.57,484.99 L290.71,485.02 L291.86,485.04 L293.01,485.07 L294.15,485.09 L295.30,485.11 L296.44,485.13 L297.59,485.15 L298.74,485.16 L299.88,485.17 L301.03,485.18 L302.17,485.19 L303.32,485.20 L304.47,485.20 L305.61,485.21 L306.76,485.21 L307.90,485.22 L309.05,485.23 L310.20,485.23 L311.34,485.24 L312.49,485.24 L313.64,485.25 L314.78,485.25 L315.93,485.26 L317.07,485.26 L318.22,485.26 L319.37,485.27 L320.51,485.27 L321.66,485.27 L322.80,485.28 L323.95,485.28 L325.10,485.28 L326.24,485.29 L327.39,485.29 L328.53,485.29 L329.68,485.29 L330.83,485.29 L331.97,485.30 L333.12,485.30 L334.27,485.30 L335.41,485.30 L336.56,485.30 L337.70,485.30 L338.85,485.30" fill="none" stroke="#8e1a1a" stroke-width="1.45" stroke-linejoin="round"/>
<path d="M87.85,485.30 L89.00,485.30 L90.14,485.30 L91.29,485.30 L92.43,485.30 L93.58,485.30 L94.73,485.30 L95.87,485.30 L97.02,485.30 L98.17,485.30 L99.31,485.30 L100.46,485.30 L101.60,485.30 L102.75,485.30 L103.90,485.30 L105.04,485.30 L106.19,485.30 L107.33,485.30 L108.48,485.30 L109.63,485.30 L110.77,485.30 L111.92,485.30 L113.06,485.30 L114.21,485.30 L115.36,485.30 L116.50,485.30 L117.65,485.30 L118.80,485.30 L119.94,485.30 L121.09,485.30 L122.23,485.30 L123.38,485.30 L124.53,485.30 L125.67,485.30 L126.82,485.30 L127.96,485.30 L129.11,485.30 L130.26,485.30 L131.40,485.30 L132.55,485.30 L133.69,485.30 L134.84,485.30 L135.99,485.30 L137.13,485.30 L138.28,485.30 L139.43,485.30 L140.57,485.30 L141.72,485.30 L142.86,485.30 L144.01,485.30 L145.16,485.30 L146.30,485.30 L147.45,485.30 L148.59,485.30 L149.74,485.30 L150.89,485.30 L152.03,485.30 L153.18,485.30 L154.32,485.29 L155.47,485.29 L156.62,485.28 L157.76,485.27 L158.91,485.26 L160.06,485.25 L161.20,485.24 L162.35,485.22 L163.49,485.21 L164.64,485.18 L165.79,485.13 L166.93,485.05 L168.08,484.92 L169.22,484.75 L170.37,484.54 L171.52,484.29 L172.66,484.00 L173.81,483.68 L174.96,483.30 L176.10,482.82 L177.25,482.19 L178.39,481.37 L179.54,480.34 L180.69,479.14 L181.83,477.80 L182.98,476.31 L184.12,474.66 L185.27,472.74 L186.42,470.49 L187.56,467.92 L188.71,465.13 L189.85,462.24 L191.00,459.33 L192.15,456.40 L193.29,453.42 L194.44,450.38 L195.59,447.31 L196.73,444.25 L197.88,441.28 L199.02,438.41 L200.17,435.66 L201.32,432.99 L202.46,430.38 L203.61,427.84 L204.75,425.40 L205.90,423.11 L207.05,421.04 L208.19,419.20 L209.34,417.58 L210.48,416.14 L211.63,414.82 L212.78,413.61 L213.92,412.51 L215.07,411.52 L216.22,410.63 L217.36,409.84 L218.51,409.13 L219.65,408.49 L220.80,407.97 L221.95,407.62 L223.09,407.51 L224.24,407.63 L225.38,407.96 L226.53,408.45 L227.68,409.05 L228.82,409.76 L229.97,410.57 L231.11,411.57 L232.26,412.78 L233.41,414.20 L234.55,415.78 L235.70,417.45 L236.85,419.13 L237.99,420.78 L239.14,422.37 L240.28,423.94 L241.43,425.51 L242.58,427.07 L243.72,428.61 L244.87,430.11 L246.01,431.55 L247.16,432.91 L248.31,434.22 L249.45,435.53 L250.60,436.90 L251.74,438.41 L252.89,440.12 L254.04,442.05 L255.18,444.16 L256.33,446.38 L257.48,448.60 L258.62,450.74 L259.77,452.76 L260.91,454.68 L262.06,456.52 L263.21,458.33 L264.35,460.10 L265.50,461.83 L266.64,463.49 L267.79,465.09 L268.94,466.61 L270.08,468.04 L271.23,469.38 L272.38,470.63 L273.52,471.82 L274.67,472.96 L275.81,474.06 L276.96,475.12 L278.11,476.14 L279.25,477.09 L280.40,477.98 L281.54,478.78 L282.69,479.50 L283.84,480.12 L284.98,480.67 L286.13,481.15 L287.27,481.59 L288.42,482.00 L289.57,482.38 L290.71,482.73 L291.86,483.05 L293.01,483.34 L294.15,483.60 L295.30,483.82 L296.44,484.00 L297.59,484.14 L298.74,484.27 L299.88,484.39 L301.03,484.49 L302.17,484.60 L303.32,484.69 L304.47,484.78 L305.61,484.86 L306.76,484.93 L307.90,484.99 L309.05,485.05 L310.20,485.10 L311.34,485.13 L312.49,485.16 L313.64,485.18 L314.78,485.19 L315.93,485.20 L317.07,485.21 L318.22,485.22 L319.37,485.23 L320.51,485.24 L321.66,485.25 L322.80,485.25 L323.95,485.26 L325.10,485.26 L326.24,485.27 L327.39,485.28 L328.53,485.28 L329.68,485.28 L330.83,485.29 L331.97,485.29 L333.12,485.29 L334.27,485.30 L335.41,485.30 L336.56,485.30 L337.70,485.30 L338.85,485.30" fill="none" stroke="#f28c1e" stroke-width="1.45" stroke-linejoin="round"/>
<path d="M87.85,484.53 L89.00,484.52 L90.14,484.50 L91.29,484.48 L92.43,484.45 L93.58,484.42 L94.73,484.37 L95.87,484.32 L97.02,484.26 L98.17,484.20 L99.31,484.13 L100.46,484.06 L101.60,483.98 L102.75,483.89 L103.90,483.80 L105.04,483.71 L106.19,483.61 L107.33,483.51 L108.48,483.41 L109.63,483.30 L110.77,483.19 L111.92,483.08 L113.06,482.97 L114.21,482.84 L115.36,482.70 L116.50,482.54 L117.65,482.37 L118.80,482.18 L119.94,481.97 L121.09,481.75 L122.23,481.51 L123.38,481.26 L124.53,480.99 L125.67,480.71 L126.82,480.41 L127.96,480.10 L129.11,479.77 L130.26,479.41 L131.40,479.02 L132.55,478.59 L133.69,478.11 L134.84,477.57 L135.99,476.99 L137.13,476.34 L138.28,475.64 L139.43,474.87 L140.57,474.01 L141.72,473.02 L142.86,471.88 L144.01,470.58 L145.16,469.12 L146.30,467.54 L147.45,465.85 L148.59,464.07 L149.74,462.22 L150.89,460.28 L152.03,458.22 L153.18,456.01 L154.32,453.64 L155.47,451.12 L156.62,448.48 L157.76,445.76 L158.91,442.94 L160.06,439.97 L161.20,436.77 L162.35,433.31 L163.49,429.67 L164.64,425.96 L165.79,422.34 L166.93,418.95 L168.08,415.94 L169.22,413.40 L170.37,411.33 L171.52,409.61 L172.66,408.09 L173.81,406.72 L174.96,405.51 L176.10,404.52 L177.25,403.80 L178.39,403.40 L179.54,403.34 L180.69,403.60 L181.83,404.16 L182.98,404.94 L184.12,405.90 L185.27,406.99 L186.42,408.15 L187.56,409.38 L188.71,410.73 L189.85,412.25 L191.00,413.96 L192.15,415.83 L193.29,417.81 L194.44,419.84 L195.59,421.86 L196.73,423.88 L197.88,425.89 L199.02,427.92 L200.17,429.98 L201.32,432.06 L202.46,434.15 L203.61,436.25 L204.75,438.34 L205.90,440.44 L207.05,442.56 L208.19,444.69 L209.34,446.83 L210.48,448.93 L211.63,450.99 L212.78,452.96 L213.92,454.86 L215.07,456.69 L216.22,458.46 L217.36,460.20 L218.51,461.86 L219.65,463.45 L220.80,464.92 L221.95,466.27 L223.09,467.49 L224.24,468.62 L225.38,469.68 L226.53,470.68 L227.68,471.59 L228.82,472.42 L229.97,473.15 L231.11,473.78 L232.26,474.31 L233.41,474.77 L234.55,475.19 L235.70,475.56 L236.85,475.91 L237.99,476.22 L239.14,476.51 L240.28,476.78 L241.43,477.02 L242.58,477.25 L243.72,477.46 L244.87,477.66 L246.01,477.84 L247.16,478.00 L248.31,478.16 L249.45,478.31 L250.60,478.46 L251.74,478.60 L252.89,478.74 L254.04,478.88 L255.18,479.01 L256.33,479.14 L257.48,479.27 L258.62,479.39 L259.77,479.52 L260.91,479.64 L262.06,479.75 L263.21,479.87 L264.35,479.98 L265.50,480.08 L266.64,480.19 L267.79,480.29 L268.94,480.39 L270.08,480.49 L271.23,480.58 L272.38,480.67 L273.52,480.76 L274.67,480.84 L275.81,480.92 L276.96,481.00 L278.11,481.08 L279.25,481.15 L280.40,481.22 L281.54,481.29 L282.69,481.36 L283.84,481.43 L284.98,481.49 L286.13,481.56 L287.27,481.63 L288.42,481.69 L289.57,481.75 L290.71,481.82 L291.86,481.88 L293.01,481.95 L294.15,482.02 L295.30,482.08 L296.44,482.15 L297.59,482.22 L298.74,482.29 L299.88,482.36 L301.03,482.43 L302.17,482.50 L303.32,482.57 L304.47,482.64 L305.61,482.71 L306.76,482.78 L307.90,482.85 L309.05,482.92 L310.20,482.99 L311.34,483.06 L312.49,483.13 L313.64,483.20 L314.78,483.27 L315.93,483.35 L317.07,483.42 L318.22,483.49 L319.37,483.56 L320.51,483.63 L321.66,483.70 L322.80,483.77 L323.95,483.85 L325.10,483.92 L326.24,483.99 L327.39,484.06 L328.53,484.14 L329.68,484.21 L330.83,484.28 L331.97,484.35 L333.12,484.43 L334.27,484.50 L335.41,484.58 L336.56,484.65 L337.70,484.72 L338.85,484.77" fill="none" stroke="#000" stroke-width="1.5" stroke-dasharray="5.2,2.3"/>
<line x1="87.8" y1="491.0" x2="87.8" y2="494.2" stroke="#9a9a9a" stroke-width="0.8"/>
<text class="tx" transform="translate(87.85,505.40) scale(1.07,1)" font-size="11.8" text-anchor="middle" fill="#1a1a1a">−5</text>
<line x1="150.6" y1="491.0" x2="150.6" y2="494.2" stroke="#9a9a9a" stroke-width="0.8"/>
<text class="tx" transform="translate(150.60,505.40) scale(1.07,1)" font-size="11.8" text-anchor="middle" fill="#1a1a1a">0</text>
<line x1="213.3" y1="491.0" x2="213.3" y2="494.2" stroke="#9a9a9a" stroke-width="0.8"/>
<text class="tx" transform="translate(213.35,505.40) scale(1.07,1)" font-size="11.8" text-anchor="middle" fill="#1a1a1a">5</text>
<line x1="276.1" y1="491.0" x2="276.1" y2="494.2" stroke="#9a9a9a" stroke-width="0.8"/>
<text class="tx" transform="translate(276.10,505.40) scale(1.07,1)" font-size="11.8" text-anchor="middle" fill="#1a1a1a">10</text>
<line x1="338.9" y1="491.0" x2="338.9" y2="494.2" stroke="#9a9a9a" stroke-width="0.8"/>
<text class="tx" transform="translate(338.85,505.40) scale(1.07,1)" font-size="11.8" text-anchor="middle" fill="#1a1a1a">15</text>
<line x1="72.1" y1="485.3" x2="75.3" y2="485.3" stroke="#9a9a9a" stroke-width="0.8"/>
<text class="tx" transform="translate(69.00,490.20) scale(1.07,1)" font-size="11.8" text-anchor="end" fill="#1a1a1a">0.0</text>
<line x1="72.1" y1="446.7" x2="75.3" y2="446.7" stroke="#9a9a9a" stroke-width="0.8"/>
<text class="tx" transform="translate(69.00,451.60) scale(1.07,1)" font-size="11.8" text-anchor="end" fill="#1a1a1a">0.1</text>
<line x1="72.1" y1="408.1" x2="75.3" y2="408.1" stroke="#9a9a9a" stroke-width="0.8"/>
<text class="tx" transform="translate(69.00,413.00) scale(1.07,1)" font-size="11.8" text-anchor="end" fill="#1a1a1a">0.2</text>
<text class="tx" transform="translate(213.50,520.30) scale(1.03,1)" font-size="12.3" text-anchor="middle" fill="#1a1a1a">Crippen logP</text>
<text class="tx" transform="translate(84.10,417.40) scale(1.08,1)" font-size="34.5" text-anchor="start" fill="#000">C</text>
<text class="tx" transform="translate(38.60,434.50) rotate(-90) scale(1.03,1)" font-size="12.3" text-anchor="middle" fill="#1a1a1a">Distribution Density</text>
</g>
<g id="panelD">
<rect x="393.4" y="378.3" width="277.0" height="112.69999999999999" fill="#fff" stroke="#9a9a9a" stroke-width="0.9"/>
<path d="M405.70,484.85 L406.85,484.75 L408.00,484.61 L409.15,484.43 L410.29,484.22 L411.44,483.99 L412.59,483.74 L413.74,483.48 L414.89,483.19 L416.04,482.90 L417.19,482.58 L418.34,482.24 L419.48,481.86 L420.63,481.45 L421.78,481.00 L422.93,480.53 L424.08,480.02 L425.23,479.50 L426.38,478.95 L427.53,478.38 L428.67,477.78 L429.82,477.14 L430.97,476.46 L432.12,475.74 L433.27,474.98 L434.42,474.20 L435.57,473.40 L436.72,472.58 L437.86,471.76 L439.01,470.94 L440.16,470.11 L441.31,469.28 L442.46,468.43 L443.61,467.57 L444.76,466.69 L445.91,465.77 L447.05,464.82 L448.20,463.84 L449.35,462.79 L450.50,461.69 L451.65,460.52 L452.80,459.27 L453.95,457.96 L455.10,456.62 L456.24,455.24 L457.39,453.85 L458.54,452.43 L459.69,450.97 L460.84,449.45 L461.99,447.90 L463.14,446.35 L464.28,444.86 L465.43,443.47 L466.58,442.21 L467.73,441.08 L468.88,440.04 L470.03,439.05 L471.18,438.11 L472.33,437.23 L473.47,436.41 L474.62,435.67 L475.77,435.02 L476.92,434.47 L478.07,434.01 L479.22,433.62 L480.37,433.27 L481.52,432.94 L482.66,432.64 L483.81,432.37 L484.96,432.14 L486.11,431.96 L487.26,431.83 L488.41,431.75 L489.56,431.72 L490.71,431.74 L491.85,431.79 L493.00,431.87 L494.15,431.97 L495.30,432.08 L496.45,432.21 L497.60,432.35 L498.75,432.50 L499.90,432.66 L501.04,432.84 L502.19,433.04 L503.34,433.27 L504.49,433.54 L505.64,433.82 L506.79,434.13 L507.94,434.46 L509.08,434.79 L510.23,435.14 L511.38,435.49 L512.53,435.86 L513.68,436.25 L514.83,436.67 L515.98,437.10 L517.13,437.54 L518.27,438.01 L519.42,438.48 L520.57,438.96 L521.72,439.45 L522.87,439.95 L524.02,440.46 L525.17,440.98 L526.32,441.52 L527.46,442.07 L528.61,442.63 L529.76,443.21 L530.91,443.79 L532.06,444.39 L533.21,445.01 L534.36,445.64 L535.51,446.29 L536.65,446.95 L537.80,447.64 L538.95,448.34 L540.10,449.05 L541.25,449.78 L542.40,450.53 L543.55,451.30 L544.70,452.09 L545.84,452.91 L546.99,453.74 L548.14,454.57 L549.29,455.42 L550.44,456.25 L551.59,457.09 L552.74,457.91 L553.89,458.72 L555.03,459.53 L556.18,460.33 L557.33,461.14 L558.48,461.94 L559.63,462.74 L560.78,463.54 L561.93,464.34 L563.07,465.15 L564.22,465.97 L565.37,466.82 L566.52,467.69 L567.67,468.57 L568.82,469.45 L569.97,470.30 L571.12,471.12 L572.26,471.87 L573.41,472.55 L574.56,473.17 L575.71,473.73 L576.86,474.27 L578.01,474.80 L579.16,475.30 L580.31,475.76 L581.45,476.16 L582.60,476.49 L583.75,476.74 L584.90,476.89 L586.05,476.95 L587.20,476.96 L588.35,476.94 L589.50,476.90 L590.64,476.86 L591.79,476.80 L592.94,476.74 L594.09,476.67 L595.24,476.59 L596.39,476.49 L597.54,476.35 L598.69,476.16 L599.83,475.91 L600.98,475.63 L602.13,475.32 L603.28,475.03 L604.43,474.77 L605.58,474.57 L606.73,474.44 L607.87,474.38 L609.02,474.39 L610.17,474.44 L611.32,474.53 L612.47,474.64 L613.62,474.78 L614.77,474.93 L615.92,475.10 L617.06,475.29 L618.21,475.50 L619.36,475.76 L620.51,476.09 L621.66,476.48 L622.81,476.94 L623.96,477.44 L625.11,477.95 L626.25,478.48 L627.40,478.99 L628.55,479.47 L629.70,479.92 L630.85,480.37 L632.00,480.80 L633.15,481.24 L634.30,481.68 L635.44,482.09 L636.59,482.49 L637.74,482.85 L638.89,483.17 L640.04,483.45 L641.19,483.70 L642.34,483.93 L643.49,484.14 L644.63,484.34 L645.78,484.53 L646.93,484.69 L648.08,484.84 L649.23,484.97 L650.38,485.07 L651.53,485.16 L652.68,485.23 L653.82,485.29 L654.97,485.34 L656.12,485.37 L657.27,485.39 L657.27,485.40 L405.70,485.40 Z" fill="#e6f4e4" stroke="none"/>
<line x1="405.7" y1="485.4" x2="657.3" y2="485.4" stroke="#c8dcc8" stroke-width="0.6" stroke-dasharray="2.5,1.5"/>
<path d="M405.70,485.29 L406.85,485.11 L408.00,484.86 L409.15,484.56 L410.29,484.23 L411.44,483.88 L412.59,483.50 L413.74,483.11 L414.89,482.69 L416.04,482.26 L417.19,481.80 L418.34,481.31 L419.48,480.79 L420.63,480.23 L421.78,479.64 L422.93,479.02 L424.08,478.37 L425.23,477.70 L426.38,477.01 L427.53,476.30 L428.67,475.55 L429.82,474.76 L430.97,473.93 L432.12,473.07 L433.27,472.17 L434.42,471.27 L435.57,470.36 L436.72,469.46 L437.86,468.58 L439.01,467.71 L440.16,466.85 L441.31,465.97 L442.46,465.09 L443.61,464.21 L444.76,463.35 L445.91,462.53 L447.05,461.77 L448.20,461.07 L449.35,460.44 L450.50,459.87 L451.65,459.34 L452.80,458.83 L453.95,458.35 L455.10,457.90 L456.24,457.50 L457.39,457.14 L458.54,456.85 L459.69,456.62 L460.84,456.44 L461.99,456.32 L463.14,456.22 L464.28,456.13 L465.43,456.06 L466.58,456.00 L467.73,455.93 L468.88,455.87 L470.03,455.80 L471.18,455.72 L472.33,455.64 L473.47,455.54 L474.62,455.45 L475.77,455.35 L476.92,455.24 L478.07,455.14 L479.22,455.03 L480.37,454.92 L481.52,454.81 L482.66,454.70 L483.81,454.59 L484.96,454.48 L486.11,454.37 L487.26,454.26 L488.41,454.14 L489.56,454.02 L490.71,453.89 L491.85,453.76 L493.00,453.61 L494.15,453.44 L495.30,453.27 L496.45,453.07 L497.60,452.86 L498.75,452.63 L499.90,452.39 L501.04,452.14 L502.19,451.88 L503.34,451.62 L504.49,451.34 L505.64,451.05 L506.79,450.74 L507.94,450.42 L509.08,450.08 L510.23,449.73 L511.38,449.37 L512.53,449.00 L513.68,448.63 L514.83,448.24 L515.98,447.84 L517.13,447.42 L518.27,446.99 L519.42,446.54 L520.57,446.07 L521.72,445.61 L522.87,445.15 L524.02,444.71 L525.17,444.28 L526.32,443.88 L527.46,443.48 L528.61,443.09 L529.76,442.70 L530.91,442.32 L532.06,441.95 L533.21,441.61 L534.36,441.29 L535.51,441.01 L536.65,440.77 L537.80,440.55 L538.95,440.36 L540.10,440.19 L541.25,440.03 L542.40,439.90 L543.55,439.82 L544.70,439.80 L545.84,439.85 L546.99,440.01 L548.14,440.25 L549.29,440.56 L550.44,440.90 L551.59,441.24 L552.74,441.57 L553.89,441.88 L555.03,442.17 L556.18,442.46 L557.33,442.76 L558.48,443.07 L559.63,443.40 L560.78,443.76 L561.93,444.15 L563.07,444.58 L564.22,445.08 L565.37,445.65 L566.52,446.30 L567.67,447.03 L568.82,447.83 L569.97,448.68 L571.12,449.57 L572.26,450.48 L573.41,451.42 L574.56,452.38 L575.71,453.36 L576.86,454.39 L578.01,455.47 L579.16,456.59 L580.31,457.75 L581.45,458.93 L582.60,460.13 L583.75,461.33 L584.90,462.55 L586.05,463.79 L587.20,465.06 L588.35,466.38 L589.50,467.74 L590.64,469.10 L591.79,470.45 L592.94,471.75 L594.09,472.99 L595.24,474.15 L596.39,475.21 L597.54,476.19 L598.69,477.12 L599.83,478.01 L600.98,478.86 L602.13,479.66 L603.28,480.42 L604.43,481.10 L605.58,481.72 L606.73,482.26 L607.87,482.74 L609.02,483.18 L610.17,483.59 L611.32,483.98 L612.47,484.34 L613.62,484.66 L614.77,484.93 L615.92,485.14 L617.06,485.29 L618.21,485.36 L619.36,485.39 L620.51,485.40 L621.66,485.40 L622.81,485.40 L623.96,485.40 L625.11,485.40 L626.25,485.40 L627.40,485.40 L628.55,485.40 L629.70,485.40 L630.85,485.40 L632.00,485.40 L633.15,485.40 L634.30,485.40 L635.44,485.40 L636.59,485.40 L637.74,485.40 L638.89,485.40 L640.04,485.40 L641.19,485.40 L642.34,485.40 L643.49,485.40 L644.63,485.40 L645.78,485.40 L646.93,485.40 L648.08,485.40 L649.23,485.40 L650.38,485.40 L651.53,485.40 L652.68,485.40 L653.82,485.40 L654.97,485.40 L656.12,485.40 L657.27,485.40" fill="none" stroke="#ff2a1a" stroke-width="1.45" stroke-linejoin="round"/>
<path d="M405.70,485.39 L406.85,485.38 L408.00,485.37 L409.15,485.36 L410.29,485.34 L411.44,485.32 L412.59,485.30 L413.74,485.28 L414.89,485.26 L416.04,485.24 L417.19,485.22 L418.34,485.19 L419.48,485.17 L420.63,485.14 L421.78,485.12 L422.93,485.09 L424.08,485.06 L425.23,485.03 L426.38,485.00 L427.53,484.97 L428.67,484.94 L429.82,484.91 L430.97,484.88 L432.12,484.85 L433.27,484.82 L434.42,484.79 L435.57,484.75 L436.72,484.72 L437.86,484.69 L439.01,484.65 L440.16,484.61 L441.31,484.57 L442.46,484.52 L443.61,484.47 L444.76,484.42 L445.91,484.37 L447.05,484.31 L448.20,484.25 L449.35,484.20 L450.50,484.14 L451.65,484.08 L452.80,484.03 L453.95,483.98 L455.10,483.93 L456.24,483.89 L457.39,483.85 L458.54,483.82 L459.69,483.79 L460.84,483.77 L461.99,483.75 L463.14,483.73 L464.28,483.72 L465.43,483.71 L466.58,483.70 L467.73,483.69 L468.88,483.68 L470.03,483.67 L471.18,483.66 L472.33,483.66 L473.47,483.65 L474.62,483.64 L475.77,483.63 L476.92,483.62 L478.07,483.61 L479.22,483.59 L480.37,483.58 L481.52,483.56 L482.66,483.54 L483.81,483.51 L484.96,483.48 L486.11,483.44 L487.26,483.40 L488.41,483.35 L489.56,483.29 L490.71,483.22 L491.85,483.14 L493.00,483.06 L494.15,482.96 L495.30,482.86 L496.45,482.73 L497.60,482.56 L498.75,482.32 L499.90,481.98 L501.04,481.57 L502.19,481.09 L503.34,480.58 L504.49,480.05 L505.64,479.52 L506.79,478.99 L507.94,478.44 L509.08,477.87 L510.23,477.28 L511.38,476.68 L512.53,476.10 L513.68,475.55 L514.83,475.06 L515.98,474.63 L517.13,474.26 L518.27,473.93 L519.42,473.62 L520.57,473.29 L521.72,472.89 L522.87,472.40 L524.02,471.77 L525.17,471.00 L526.32,470.09 L527.46,469.08 L528.61,467.99 L529.76,466.86 L530.91,465.68 L532.06,464.43 L533.21,463.11 L534.36,461.72 L535.51,460.31 L536.65,458.91 L537.80,457.56 L538.95,456.28 L540.10,455.05 L541.25,453.81 L542.40,452.52 L543.55,451.10 L544.70,449.50 L545.84,447.64 L546.99,445.51 L548.14,443.14 L549.29,440.59 L550.44,437.97 L551.59,435.34 L552.74,432.75 L553.89,430.20 L555.03,427.64 L556.18,425.07 L557.33,422.49 L558.48,419.92 L559.63,417.37 L560.78,414.86 L561.93,412.42 L563.07,410.03 L564.22,407.68 L565.37,405.34 L566.52,402.99 L567.67,400.66 L568.82,398.38 L569.97,396.19 L571.12,394.14 L572.26,392.27 L573.41,390.61 L574.56,389.14 L575.71,387.81 L576.86,386.59 L578.01,385.46 L579.16,384.47 L580.31,383.70 L581.45,383.22 L582.60,383.07 L583.75,383.28 L584.90,383.82 L586.05,384.65 L587.20,385.70 L588.35,386.93 L589.50,388.37 L590.64,390.11 L591.79,392.30 L592.94,395.00 L594.09,398.16 L595.24,401.66 L596.39,405.37 L597.54,409.19 L598.69,413.11 L599.83,417.20 L600.98,421.53 L602.13,426.09 L603.28,430.80 L604.43,435.52 L605.58,440.13 L606.73,444.54 L607.87,448.74 L609.02,452.75 L610.17,456.61 L611.32,460.26 L612.47,463.61 L613.62,466.58 L614.77,469.20 L615.92,471.53 L617.06,473.62 L618.21,475.48 L619.36,477.07 L620.51,478.41 L621.66,479.54 L622.81,480.54 L623.96,481.43 L625.11,482.22 L626.25,482.90 L627.40,483.46 L628.55,483.87 L629.70,484.18 L630.85,484.41 L632.00,484.60 L633.15,484.77 L634.30,484.92 L635.44,485.06 L636.59,485.17 L637.74,485.26 L638.89,485.33 L640.04,485.37 L641.19,485.39 L642.34,485.40 L643.49,485.40 L644.63,485.40 L645.78,485.40 L646.93,485.40 L648.08,485.40 L649.23,485.40 L650.38,485.40 L651.53,485.40 L652.68,485.40 L653.82,485.40 L654.97,485.40 L656.12,485.40 L657.27,485.40" fill="none" stroke="#707070" stroke-width="1.3" stroke-linejoin="round"/>
<path d="M405.70,485.37 L406.85,485.33 L408.00,485.26 L409.15,485.16 L410.29,485.05 L411.44,484.92 L412.59,484.78 L413.74,484.63 L414.89,484.46 L416.04,484.29 L417.19,484.10 L418.34,483.90 L419.48,483.67 L420.63,483.41 L421.78,483.13 L422.93,482.83 L424.08,482.51 L425.23,482.17 L426.38,481.81 L427.53,481.44 L428.67,481.05 L429.82,480.63 L430.97,480.18 L432.12,479.70 L433.27,479.19 L434.42,478.66 L435.57,478.12 L436.72,477.56 L437.86,476.99 L439.01,476.40 L440.16,475.79 L441.31,475.17 L442.46,474.52 L443.61,473.84 L444.76,473.16 L445.91,472.46 L447.05,471.76 L448.20,471.05 L449.35,470.35 L450.50,469.63 L451.65,468.90 L452.80,468.16 L453.95,467.40 L455.10,466.64 L456.24,465.90 L457.39,465.18 L458.54,464.50 L459.69,463.87 L460.84,463.28 L461.99,462.73 L463.14,462.22 L464.28,461.73 L465.43,461.26 L466.58,460.82 L467.73,460.38 L468.88,459.96 L470.03,459.56 L471.18,459.16 L472.33,458.78 L473.47,458.41 L474.62,458.06 L475.77,457.73 L476.92,457.40 L478.07,457.07 L479.22,456.73 L480.37,456.39 L481.52,456.03 L482.66,455.65 L483.81,455.26 L484.96,454.86 L486.11,454.45 L487.26,454.03 L488.41,453.59 L489.56,453.13 L490.71,452.64 L491.85,452.12 L493.00,451.57 L494.15,450.96 L495.30,450.30 L496.45,449.57 L497.60,448.79 L498.75,447.96 L499.90,447.11 L501.04,446.25 L502.19,445.39 L503.34,444.54 L504.49,443.71 L505.64,442.87 L506.79,442.04 L507.94,441.19 L509.08,440.34 L510.23,439.50 L511.38,438.68 L512.53,437.89 L513.68,437.13 L514.83,436.42 L515.98,435.73 L517.13,435.04 L518.27,434.34 L519.42,433.65 L520.57,432.98 L521.72,432.38 L522.87,431.86 L524.02,431.45 L525.17,431.18 L526.32,431.06 L527.46,431.10 L528.61,431.27 L529.76,431.55 L530.91,431.93 L532.06,432.37 L533.21,432.85 L534.36,433.35 L535.51,433.85 L536.65,434.34 L537.80,434.83 L538.95,435.33 L540.10,435.86 L541.25,436.43 L542.40,437.01 L543.55,437.60 L544.70,438.17 L545.84,438.72 L546.99,439.21 L548.14,439.64 L549.29,439.99 L550.44,440.26 L551.59,440.45 L552.74,440.60 L553.89,440.71 L555.03,440.81 L556.18,440.89 L557.33,440.96 L558.48,441.04 L559.63,441.13 L560.78,441.23 L561.93,441.36 L563.07,441.53 L564.22,441.76 L565.37,442.10 L566.52,442.55 L567.67,443.10 L568.82,443.76 L569.97,444.50 L571.12,445.29 L572.26,446.14 L573.41,447.03 L574.56,447.96 L575.71,448.98 L576.86,450.12 L578.01,451.38 L579.16,452.75 L580.31,454.20 L581.45,455.69 L582.60,457.20 L583.75,458.69 L584.90,460.15 L586.05,461.59 L587.20,463.03 L588.35,464.49 L589.50,465.96 L590.64,467.44 L591.79,468.88 L592.94,470.27 L594.09,471.59 L595.24,472.82 L596.39,473.95 L597.54,475.00 L598.69,475.99 L599.83,476.94 L600.98,477.85 L602.13,478.71 L603.28,479.51 L604.43,480.25 L605.58,480.91 L606.73,481.49 L607.87,482.00 L609.02,482.47 L610.17,482.91 L611.32,483.33 L612.47,483.71 L613.62,484.06 L614.77,484.35 L615.92,484.59 L617.06,484.76 L618.21,484.86 L619.36,484.93 L620.51,484.96 L621.66,484.99 L622.81,485.02 L623.96,485.05 L625.11,485.08 L626.25,485.10 L627.40,485.13 L628.55,485.15 L629.70,485.17 L630.85,485.19 L632.00,485.21 L633.15,485.23 L634.30,485.25 L635.44,485.26 L636.59,485.28 L637.74,485.29 L638.89,485.31 L640.04,485.32 L641.19,485.33 L642.34,485.34 L643.49,485.35 L644.63,485.36 L645.78,485.37 L646.93,485.37 L648.08,485.38 L649.23,485.38 L650.38,485.39 L651.53,485.39 L652.68,485.39 L653.82,485.40 L654.97,485.40 L656.12,485.40 L657.27,485.40" fill="none" stroke="#0000ff" stroke-width="1.45" stroke-linejoin="round"/>
<path d="M405.70,485.28 L406.85,485.10 L408.00,484.84 L409.15,484.53 L410.29,484.20 L411.44,483.84 L412.59,483.47 L413.74,483.08 L414.89,482.67 L416.04,482.25 L417.19,481.81 L418.34,481.34 L419.48,480.85 L420.63,480.33 L421.78,479.77 L422.93,479.20 L424.08,478.60 L425.23,477.98 L426.38,477.34 L427.53,476.68 L428.67,476.00 L429.82,475.29 L430.97,474.55 L432.12,473.79 L433.27,472.99 L434.42,472.17 L435.57,471.33 L436.72,470.46 L437.86,469.58 L439.01,468.67 L440.16,467.73 L441.31,466.75 L442.46,465.73 L443.61,464.69 L444.76,463.63 L445.91,462.57 L447.05,461.51 L448.20,460.47 L449.35,459.45 L450.50,458.43 L451.65,457.40 L452.80,456.36 L453.95,455.32 L455.10,454.30 L456.24,453.31 L457.39,452.40 L458.54,451.56 L459.69,450.82 L460.84,450.16 L461.99,449.55 L463.14,448.97 L464.28,448.42 L465.43,447.90 L466.58,447.43 L467.73,447.03 L468.88,446.71 L470.03,446.49 L471.18,446.37 L472.33,446.34 L473.47,446.38 L474.62,446.46 L475.77,446.57 L476.92,446.71 L478.07,446.88 L479.22,447.06 L480.37,447.25 L481.52,447.46 L482.66,447.69 L483.81,447.96 L484.96,448.29 L486.11,448.67 L487.26,449.10 L488.41,449.54 L489.56,449.99 L490.71,450.42 L491.85,450.82 L493.00,451.18 L494.15,451.50 L495.30,451.82 L496.45,452.12 L497.60,452.42 L498.75,452.71 L499.90,452.97 L501.04,453.18 L502.19,453.35 L503.34,453.46 L504.49,453.51 L505.64,453.51 L506.79,453.47 L507.94,453.40 L509.08,453.31 L510.23,453.20 L511.38,453.07 L512.53,452.92 L513.68,452.75 L514.83,452.56 L515.98,452.31 L517.13,451.98 L518.27,451.54 L519.42,451.00 L520.57,450.39 L521.72,449.73 L522.87,449.04 L524.02,448.35 L525.17,447.69 L526.32,447.05 L527.46,446.42 L528.61,445.79 L529.76,445.15 L530.91,444.51 L532.06,443.87 L533.21,443.26 L534.36,442.68 L535.51,442.15 L536.65,441.66 L537.80,441.22 L538.95,440.81 L540.10,440.42 L541.25,440.06 L542.40,439.76 L543.55,439.56 L544.70,439.46 L545.84,439.50 L546.99,439.67 L548.14,439.94 L549.29,440.29 L550.44,440.68 L551.59,441.08 L552.74,441.47 L553.89,441.86 L555.03,442.24 L556.18,442.63 L557.33,443.04 L558.48,443.47 L559.63,443.92 L560.78,444.41 L561.93,444.93 L563.07,445.50 L564.22,446.13 L565.37,446.84 L566.52,447.64 L567.67,448.51 L568.82,449.44 L569.97,450.43 L571.12,451.45 L572.26,452.49 L573.41,453.53 L574.56,454.58 L575.71,455.64 L576.86,456.73 L578.01,457.84 L579.16,458.98 L580.31,460.14 L581.45,461.30 L582.60,462.48 L583.75,463.65 L584.90,464.81 L586.05,465.98 L587.20,467.16 L588.35,468.36 L589.50,469.58 L590.64,470.80 L591.79,471.99 L592.94,473.15 L594.09,474.25 L595.24,475.28 L596.39,476.24 L597.54,477.14 L598.69,478.02 L599.83,478.87 L600.98,479.70 L602.13,480.48 L603.28,481.20 L604.43,481.84 L605.58,482.39 L606.73,482.83 L607.87,483.19 L609.02,483.49 L610.17,483.75 L611.32,484.00 L612.47,484.24 L613.62,484.45 L614.77,484.65 L615.92,484.83 L617.06,484.99 L618.21,485.12 L619.36,485.23 L620.51,485.31 L621.66,485.36 L622.81,485.39 L623.96,485.40 L625.11,485.40 L626.25,485.40 L627.40,485.40 L628.55,485.40 L629.70,485.40 L630.85,485.40 L632.00,485.40 L633.15,485.40 L634.30,485.40 L635.44,485.40 L636.59,485.40 L637.74,485.40 L638.89,485.40 L640.04,485.40 L641.19,485.40 L642.34,485.40 L643.49,485.40 L644.63,485.40 L645.78,485.40 L646.93,485.40 L648.08,485.40 L649.23,485.40 L650.38,485.40 L651.53,485.40 L652.68,485.40 L653.82,485.40 L654.97,485.40 L656.12,485.40 L657.27,485.40" fill="none" stroke="#66ffff" stroke-width="1.45" stroke-linejoin="round"/>
<path d="M405.70,484.03 L406.85,483.82 L408.00,483.51 L409.15,483.14 L410.29,482.73 L411.44,482.28 L412.59,481.80 L413.74,481.30 L414.89,480.77 L416.04,480.22 L417.19,479.63 L418.34,479.00 L419.48,478.31 L420.63,477.57 L421.78,476.78 L422.93,475.96 L424.08,475.10 L425.23,474.23 L426.38,473.33 L427.53,472.43 L428.67,471.49 L429.82,470.53 L430.97,469.52 L432.12,468.48 L433.27,467.42 L434.42,466.35 L435.57,465.30 L436.72,464.26 L437.86,463.25 L439.01,462.25 L440.16,461.25 L441.31,460.24 L442.46,459.24 L443.61,458.28 L444.76,457.40 L445.91,456.64 L447.05,456.01 L448.20,455.48 L449.35,455.04 L450.50,454.64 L451.65,454.28 L452.80,453.98 L453.95,453.74 L455.10,453.59 L456.24,453.52 L457.39,453.52 L458.54,453.56 L459.69,453.62 L460.84,453.71 L461.99,453.81 L463.14,453.91 L464.28,454.01 L465.43,454.10 L466.58,454.17 L467.73,454.23 L468.88,454.29 L470.03,454.34 L471.18,454.39 L472.33,454.44 L473.47,454.49 L474.62,454.54 L475.77,454.58 L476.92,454.61 L478.07,454.65 L479.22,454.67 L480.37,454.69 L481.52,454.70 L482.66,454.69 L483.81,454.66 L484.96,454.59 L486.11,454.49 L487.26,454.35 L488.41,454.19 L489.56,454.01 L490.71,453.81 L491.85,453.60 L493.00,453.38 L494.15,453.16 L495.30,452.95 L496.45,452.73 L497.60,452.53 L498.75,452.34 L499.90,452.15 L501.04,451.96 L502.19,451.76 L503.34,451.56 L504.49,451.36 L505.64,451.16 L506.79,450.95 L507.94,450.73 L509.08,450.51 L510.23,450.29 L511.38,450.05 L512.53,449.81 L513.68,449.56 L514.83,449.31 L515.98,449.03 L517.13,448.74 L518.27,448.43 L519.42,448.11 L520.57,447.76 L521.72,447.41 L522.87,447.05 L524.02,446.68 L525.17,446.31 L526.32,445.95 L527.46,445.59 L528.61,445.25 L529.76,444.92 L530.91,444.59 L532.06,444.26 L533.21,443.91 L534.36,443.56 L535.51,443.21 L536.65,442.87 L537.80,442.57 L538.95,442.32 L540.10,442.13 L541.25,442.02 L542.40,441.98 L543.55,442.01 L544.70,442.08 L545.84,442.19 L546.99,442.33 L548.14,442.50 L549.29,442.68 L550.44,442.89 L551.59,443.10 L552.74,443.35 L553.89,443.63 L555.03,443.97 L556.18,444.36 L557.33,444.82 L558.48,445.32 L559.63,445.86 L560.78,446.44 L561.93,447.05 L563.07,447.68 L564.22,448.35 L565.37,449.08 L566.52,449.88 L567.67,450.74 L568.82,451.66 L569.97,452.62 L571.12,453.61 L572.26,454.63 L573.41,455.66 L574.56,456.70 L575.71,457.76 L576.86,458.86 L578.01,460.00 L579.16,461.17 L580.31,462.36 L581.45,463.55 L582.60,464.74 L583.75,465.90 L584.90,467.05 L586.05,468.18 L587.20,469.30 L588.35,470.43 L589.50,471.56 L590.64,472.67 L591.79,473.76 L592.94,474.79 L594.09,475.77 L595.24,476.67 L596.39,477.50 L597.54,478.26 L598.69,478.97 L599.83,479.64 L600.98,480.28 L602.13,480.89 L603.28,481.45 L604.43,481.97 L605.58,482.43 L606.73,482.85 L607.87,483.23 L609.02,483.58 L610.17,483.91 L611.32,484.23 L612.47,484.52 L613.62,484.79 L614.77,485.01 L615.92,485.19 L617.06,485.31 L618.21,485.37 L619.36,485.39 L620.51,485.40 L621.66,485.40 L622.81,485.40 L623.96,485.40 L625.11,485.40 L626.25,485.40 L627.40,485.40 L628.55,485.40 L629.70,485.40 L630.85,485.40 L632.00,485.40 L633.15,485.40 L634.30,485.40 L635.44,485.40 L636.59,485.40 L637.74,485.40 L638.89,485.40 L640.04,485.40 L641.19,485.40 L642.34,485.40 L643.49,485.40 L644.63,485.40 L645.78,485.40 L646.93,485.40 L648.08,485.40 L649.23,485.40 L650.38,485.40 L651.53,485.40 L652.68,485.40 L653.82,485.40 L654.97,485.40 L656.12,485.40 L657.27,485.40" fill="none" stroke="#ff22ff" stroke-width="1.45" stroke-linejoin="round"/>
<path d="M405.70,485.34 L406.85,485.25 L408.00,485.10 L409.15,484.92 L410.29,484.71 L411.44,484.49 L412.59,484.24 L413.74,483.97 L414.89,483.69 L416.04,483.39 L417.19,483.07 L418.34,482.73 L419.48,482.35 L420.63,481.93 L421.78,481.48 L422.93,481.00 L424.08,480.49 L425.23,479.97 L426.38,479.43 L427.53,478.88 L428.67,478.30 L429.82,477.68 L430.97,477.03 L432.12,476.35 L433.27,475.65 L434.42,474.93 L435.57,474.21 L436.72,473.49 L437.86,472.77 L439.01,472.06 L440.16,471.34 L441.31,470.60 L442.46,469.85 L443.61,469.10 L444.76,468.36 L445.91,467.66 L447.05,466.99 L448.20,466.39 L449.35,465.85 L450.50,465.36 L451.65,464.91 L452.80,464.49 L453.95,464.10 L455.10,463.73 L456.24,463.38 L457.39,463.08 L458.54,462.80 L459.69,462.56 L460.84,462.36 L461.99,462.18 L463.14,462.01 L464.28,461.87 L465.43,461.73 L466.58,461.60 L467.73,461.49 L468.88,461.39 L470.03,461.30 L471.18,461.22 L472.33,461.16 L473.47,461.10 L474.62,461.06 L475.77,461.01 L476.92,460.97 L478.07,460.94 L479.22,460.90 L480.37,460.86 L481.52,460.81 L482.66,460.77 L483.81,460.72 L484.96,460.67 L486.11,460.61 L487.26,460.56 L488.41,460.50 L489.56,460.43 L490.71,460.36 L491.85,460.28 L493.00,460.19 L494.15,460.07 L495.30,459.92 L496.45,459.74 L497.60,459.53 L498.75,459.29 L499.90,459.04 L501.04,458.77 L502.19,458.49 L503.34,458.21 L504.49,457.93 L505.64,457.65 L506.79,457.36 L507.94,457.06 L509.08,456.74 L510.23,456.42 L511.38,456.07 L512.53,455.71 L513.68,455.33 L514.83,454.93 L515.98,454.49 L517.13,454.02 L518.27,453.51 L519.42,452.97 L520.57,452.39 L521.72,451.79 L522.87,451.17 L524.02,450.54 L525.17,449.89 L526.32,449.24 L527.46,448.57 L528.61,447.89 L529.76,447.18 L530.91,446.46 L532.06,445.72 L533.21,444.97 L534.36,444.20 L535.51,443.41 L536.65,442.62 L537.80,441.82 L538.95,441.00 L540.10,440.16 L541.25,439.31 L542.40,438.43 L543.55,437.53 L544.70,436.58 L545.84,435.57 L546.99,434.49 L548.14,433.36 L549.29,432.24 L550.44,431.21 L551.59,430.31 L552.74,429.56 L553.89,428.94 L555.03,428.39 L556.18,427.89 L557.33,427.43 L558.48,427.03 L559.63,426.70 L560.78,426.47 L561.93,426.36 L563.07,426.38 L564.22,426.55 L565.37,426.88 L566.52,427.33 L567.67,427.90 L568.82,428.55 L569.97,429.30 L571.12,430.20 L572.26,431.33 L573.41,432.70 L574.56,434.29 L575.71,436.03 L576.86,437.87 L578.01,439.77 L579.16,441.73 L580.31,443.79 L581.45,445.98 L582.60,448.29 L583.75,450.66 L584.90,453.03 L586.05,455.34 L587.20,457.53 L588.35,459.61 L589.50,461.60 L590.64,463.53 L591.79,465.40 L592.94,467.18 L594.09,468.85 L595.24,470.38 L596.39,471.76 L597.54,473.02 L598.69,474.17 L599.83,475.26 L600.98,476.29 L602.13,477.25 L603.28,478.14 L604.43,478.97 L605.58,479.72 L606.73,480.41 L607.87,481.04 L609.02,481.63 L610.17,482.18 L611.32,482.69 L612.47,483.15 L613.62,483.54 L614.77,483.86 L615.92,484.09 L617.06,484.27 L618.21,484.41 L619.36,484.54 L620.51,484.66 L621.66,484.77 L622.81,484.87 L623.96,484.97 L625.11,485.05 L626.25,485.13 L627.40,485.20 L628.55,485.25 L629.70,485.30 L630.85,485.34 L632.00,485.37 L633.15,485.39 L634.30,485.40 L635.44,485.40 L636.59,485.40 L637.74,485.40 L638.89,485.40 L640.04,485.40 L641.19,485.40 L642.34,485.40 L643.49,485.40 L644.63,485.40 L645.78,485.40 L646.93,485.40 L648.08,485.40 L649.23,485.40 L650.38,485.40 L651.53,485.40 L652.68,485.40 L653.82,485.40 L654.97,485.40 L656.12,485.40 L657.27,485.40" fill="none" stroke="#ffff22" stroke-width="1.45" stroke-linejoin="round"/>
<path d="M405.70,485.35 L406.85,485.27 L408.00,485.15 L409.15,485.00 L410.29,484.83 L411.44,484.64 L412.59,484.43 L413.74,484.21 L414.89,483.98 L416.04,483.73 L417.19,483.46 L418.34,483.18 L419.48,482.87 L420.63,482.52 L421.78,482.15 L422.93,481.76 L424.08,481.34 L425.23,480.90 L426.38,480.43 L427.53,479.94 L428.67,479.41 L429.82,478.84 L430.97,478.23 L432.12,477.57 L433.27,476.87 L434.42,476.15 L435.57,475.42 L436.72,474.67 L437.86,473.92 L439.01,473.16 L440.16,472.38 L441.31,471.58 L442.46,470.75 L443.61,469.91 L444.76,469.07 L445.91,468.23 L447.05,467.43 L448.20,466.65 L449.35,465.92 L450.50,465.23 L451.65,464.56 L452.80,463.91 L453.95,463.29 L455.10,462.68 L456.24,462.10 L457.39,461.54 L458.54,461.02 L459.69,460.54 L460.84,460.09 L461.99,459.68 L463.14,459.30 L464.28,458.95 L465.43,458.62 L466.58,458.30 L467.73,457.97 L468.88,457.64 L470.03,457.30 L471.18,456.93 L472.33,456.55 L473.47,456.16 L474.62,455.76 L475.77,455.36 L476.92,454.94 L478.07,454.49 L479.22,454.02 L480.37,453.52 L481.52,452.97 L482.66,452.35 L483.81,451.66 L484.96,450.86 L486.11,449.98 L487.26,449.04 L488.41,448.05 L489.56,447.04 L490.71,446.04 L491.85,445.06 L493.00,444.11 L494.15,443.19 L495.30,442.25 L496.45,441.30 L497.60,440.37 L498.75,439.50 L499.90,438.74 L501.04,438.12 L502.19,437.64 L503.34,437.28 L504.49,436.98 L505.64,436.71 L506.79,436.49 L507.94,436.30 L509.08,436.17 L510.23,436.08 L511.38,436.06 L512.53,436.08 L513.68,436.14 L514.83,436.24 L515.98,436.36 L517.13,436.52 L518.27,436.69 L519.42,436.88 L520.57,437.10 L521.72,437.34 L522.87,437.64 L524.02,438.03 L525.17,438.51 L526.32,439.07 L527.46,439.68 L528.61,440.30 L529.76,440.92 L530.91,441.52 L532.06,442.11 L533.21,442.71 L534.36,443.31 L535.51,443.92 L536.65,444.53 L537.80,445.12 L538.95,445.69 L540.10,446.22 L541.25,446.71 L542.40,447.16 L543.55,447.56 L544.70,447.94 L545.84,448.30 L546.99,448.63 L548.14,448.96 L549.29,449.28 L550.44,449.60 L551.59,449.92 L552.74,450.25 L553.89,450.57 L555.03,450.88 L556.18,451.19 L557.33,451.49 L558.48,451.80 L559.63,452.12 L560.78,452.47 L561.93,452.84 L563.07,453.26 L564.22,453.72 L565.37,454.26 L566.52,454.86 L567.67,455.52 L568.82,456.23 L569.97,456.97 L571.12,457.74 L572.26,458.51 L573.41,459.29 L574.56,460.05 L575.71,460.82 L576.86,461.58 L578.01,462.36 L579.16,463.15 L580.31,463.95 L581.45,464.76 L582.60,465.58 L583.75,466.41 L584.90,467.26 L586.05,468.12 L587.20,469.01 L588.35,469.93 L589.50,470.88 L590.64,471.83 L591.79,472.77 L592.94,473.71 L594.09,474.61 L595.24,475.46 L596.39,476.28 L597.54,477.06 L598.69,477.83 L599.83,478.59 L600.98,479.32 L602.13,480.03 L603.28,480.69 L604.43,481.30 L605.58,481.85 L606.73,482.32 L607.87,482.72 L609.02,483.08 L610.17,483.41 L611.32,483.72 L612.47,484.01 L613.62,484.27 L614.77,484.49 L615.92,484.66 L617.06,484.79 L618.21,484.87 L619.36,484.93 L620.51,484.96 L621.66,484.99 L622.81,485.02 L623.96,485.05 L625.11,485.08 L626.25,485.10 L627.40,485.12 L628.55,485.15 L629.70,485.17 L630.85,485.19 L632.00,485.21 L633.15,485.23 L634.30,485.24 L635.44,485.26 L636.59,485.28 L637.74,485.29 L638.89,485.30 L640.04,485.32 L641.19,485.33 L642.34,485.34 L643.49,485.35 L644.63,485.36 L645.78,485.36 L646.93,485.37 L648.08,485.38 L649.23,485.38 L650.38,485.39 L651.53,485.39 L652.68,485.39 L653.82,485.40 L654.97,485.40 L656.12,485.40 L657.27,485.40" fill="none" stroke="#ffb0c2" stroke-width="1.3" stroke-linejoin="round"/>
<path d="M405.70,484.54 L406.85,484.37 L408.00,484.11 L409.15,483.79 L410.29,483.44 L411.44,483.06 L412.59,482.66 L413.74,482.22 L414.89,481.77 L416.04,481.30 L417.19,480.79 L418.34,480.25 L419.48,479.66 L420.63,479.03 L421.78,478.35 L422.93,477.64 L424.08,476.90 L425.23,476.14 L426.38,475.36 L427.53,474.57 L428.67,473.74 L429.82,472.88 L430.97,471.98 L432.12,471.04 L433.27,470.08 L434.42,469.12 L435.57,468.17 L436.72,467.25 L437.86,466.36 L439.01,465.50 L440.16,464.67 L441.31,463.84 L442.46,463.03 L443.61,462.22 L444.76,461.45 L445.91,460.72 L447.05,460.05 L448.20,459.45 L449.35,458.91 L450.50,458.42 L451.65,457.97 L452.80,457.54 L453.95,457.12 L455.10,456.74 L456.24,456.40 L457.39,456.12 L458.54,455.92 L459.69,455.79 L460.84,455.75 L461.99,455.77 L463.14,455.84 L464.28,455.95 L465.43,456.10 L466.58,456.28 L467.73,456.48 L468.88,456.70 L470.03,456.94 L471.18,457.20 L472.33,457.52 L473.47,457.91 L474.62,458.38 L475.77,458.92 L476.92,459.51 L478.07,460.13 L479.22,460.75 L480.37,461.34 L481.52,461.90 L482.66,462.41 L483.81,462.91 L484.96,463.39 L486.11,463.86 L487.26,464.33 L488.41,464.77 L489.56,465.18 L490.71,465.55 L491.85,465.86 L493.00,466.12 L494.15,466.33 L495.30,466.51 L496.45,466.67 L497.60,466.82 L498.75,466.96 L499.90,467.08 L501.04,467.18 L502.19,467.25 L503.34,467.29 L504.49,467.30 L505.64,467.27 L506.79,467.19 L507.94,467.07 L509.08,466.91 L510.23,466.71 L511.38,466.50 L512.53,466.26 L513.68,466.00 L514.83,465.74 L515.98,465.45 L517.13,465.14 L518.27,464.78 L519.42,464.37 L520.57,463.92 L521.72,463.44 L522.87,462.93 L524.02,462.39 L525.17,461.83 L526.32,461.24 L527.46,460.60 L528.61,459.92 L529.76,459.17 L530.91,458.38 L532.06,457.55 L533.21,456.70 L534.36,455.83 L535.51,454.97 L536.65,454.13 L537.80,453.32 L538.95,452.54 L540.10,451.78 L541.25,451.01 L542.40,450.18 L543.55,449.24 L544.70,448.08 L545.84,446.61 L546.99,444.77 L548.14,442.65 L549.29,440.41 L550.44,438.32 L551.59,436.55 L552.74,435.18 L553.89,434.15 L555.03,433.32 L556.18,432.58 L557.33,431.91 L558.48,431.32 L559.63,430.82 L560.78,430.43 L561.93,430.15 L563.07,430.00 L564.22,429.99 L565.37,430.09 L566.52,430.32 L567.67,430.63 L568.82,431.03 L569.97,431.48 L571.12,431.99 L572.26,432.55 L573.41,433.20 L574.56,433.98 L575.71,434.91 L576.86,435.99 L578.01,437.20 L579.16,438.49 L580.31,439.86 L581.45,441.27 L582.60,442.72 L583.75,444.23 L584.90,445.84 L586.05,447.57 L587.20,449.42 L588.35,451.34 L589.50,453.30 L590.64,455.25 L591.79,457.15 L592.94,458.96 L594.09,460.67 L595.24,462.30 L596.39,463.86 L597.54,465.39 L598.69,466.88 L599.83,468.32 L600.98,469.71 L602.13,471.02 L603.28,472.26 L604.43,473.42 L605.58,474.50 L606.73,475.54 L607.87,476.53 L609.02,477.49 L610.17,478.40 L611.32,479.25 L612.47,480.03 L613.62,480.72 L614.77,481.31 L615.92,481.81 L617.06,482.24 L618.21,482.63 L619.36,482.99 L620.51,483.33 L621.66,483.64 L622.81,483.93 L623.96,484.19 L625.11,484.41 L626.25,484.59 L627.40,484.73 L628.55,484.84 L629.70,484.91 L630.85,484.96 L632.00,485.00 L633.15,485.03 L634.30,485.07 L635.44,485.10 L636.59,485.13 L637.74,485.16 L638.89,485.19 L640.04,485.21 L641.19,485.24 L642.34,485.26 L643.49,485.28 L644.63,485.30 L645.78,485.32 L646.93,485.33 L648.08,485.35 L649.23,485.36 L650.38,485.37 L651.53,485.38 L652.68,485.39 L653.82,485.39 L654.97,485.40 L656.12,485.40 L657.27,485.40" fill="none" stroke="#8e1a1a" stroke-width="1.45" stroke-linejoin="round"/>
<path d="M405.70,485.40 L406.85,485.40 L408.00,485.40 L409.15,485.39 L410.29,485.39 L411.44,485.38 L412.59,485.37 L413.74,485.36 L414.89,485.35 L416.04,485.34 L417.19,485.32 L418.34,485.31 L419.48,485.29 L420.63,485.28 L421.78,485.26 L422.93,485.24 L424.08,485.22 L425.23,485.20 L426.38,485.18 L427.53,485.16 L428.67,485.13 L429.82,485.10 L430.97,485.06 L432.12,485.02 L433.27,484.97 L434.42,484.92 L435.57,484.86 L436.72,484.79 L437.86,484.72 L439.01,484.64 L440.16,484.55 L441.31,484.44 L442.46,484.31 L443.61,484.17 L444.76,484.01 L445.91,483.84 L447.05,483.66 L448.20,483.46 L449.35,483.25 L450.50,483.02 L451.65,482.76 L452.80,482.46 L453.95,482.14 L455.10,481.79 L456.24,481.42 L457.39,481.04 L458.54,480.65 L459.69,480.26 L460.84,479.85 L461.99,479.43 L463.14,478.99 L464.28,478.55 L465.43,478.13 L466.58,477.74 L467.73,477.38 L468.88,477.05 L470.03,476.75 L471.18,476.46 L472.33,476.18 L473.47,475.90 L474.62,475.64 L475.77,475.37 L476.92,475.09 L478.07,474.80 L479.22,474.50 L480.37,474.18 L481.52,473.83 L482.66,473.46 L483.81,473.06 L484.96,472.62 L486.11,472.14 L487.26,471.62 L488.41,471.03 L489.56,470.37 L490.71,469.60 L491.85,468.71 L493.00,467.68 L494.15,466.50 L495.30,465.18 L496.45,463.77 L497.60,462.30 L498.75,460.82 L499.90,459.35 L501.04,457.88 L502.19,456.41 L503.34,454.92 L504.49,453.42 L505.64,451.94 L506.79,450.50 L507.94,449.12 L509.08,447.78 L510.23,446.50 L511.38,445.24 L512.53,444.02 L513.68,442.85 L514.83,441.74 L515.98,440.70 L517.13,439.73 L518.27,438.84 L519.42,438.00 L520.57,437.21 L521.72,436.46 L522.87,435.76 L524.02,435.12 L525.17,434.54 L526.32,434.02 L527.46,433.55 L528.61,433.12 L529.76,432.73 L530.91,432.36 L532.06,432.02 L533.21,431.69 L534.36,431.38 L535.51,431.07 L536.65,430.76 L537.80,430.45 L538.95,430.13 L540.10,429.82 L541.25,429.52 L542.40,429.24 L543.55,429.00 L544.70,428.79 L545.84,428.61 L546.99,428.45 L548.14,428.31 L549.29,428.19 L550.44,428.09 L551.59,428.03 L552.74,428.02 L553.89,428.07 L555.03,428.18 L556.18,428.35 L557.33,428.58 L558.48,428.85 L559.63,429.17 L560.78,429.51 L561.93,429.87 L563.07,430.26 L564.22,430.69 L565.37,431.19 L566.52,431.78 L567.67,432.45 L568.82,433.18 L569.97,433.95 L571.12,434.74 L572.26,435.52 L573.41,436.29 L574.56,437.01 L575.71,437.70 L576.86,438.35 L578.01,438.98 L579.16,439.60 L580.31,440.23 L581.45,440.88 L582.60,441.58 L583.75,442.33 L584.90,443.16 L586.05,444.08 L587.20,445.13 L588.35,446.30 L589.50,447.59 L590.64,448.96 L591.79,450.41 L592.94,451.90 L594.09,453.42 L595.24,454.94 L596.39,456.47 L597.54,458.02 L598.69,459.63 L599.83,461.30 L600.98,463.00 L602.13,464.71 L603.28,466.39 L604.43,468.01 L605.58,469.53 L606.73,470.93 L607.87,472.22 L609.02,473.43 L610.17,474.57 L611.32,475.67 L612.47,476.71 L613.62,477.70 L614.77,478.61 L615.92,479.43 L617.06,480.16 L618.21,480.81 L619.36,481.40 L620.51,481.94 L621.66,482.45 L622.81,482.94 L623.96,483.38 L625.11,483.77 L626.25,484.10 L627.40,484.35 L628.55,484.53 L629.70,484.65 L630.85,484.73 L632.00,484.80 L633.15,484.85 L634.30,484.90 L635.44,484.96 L636.59,485.00 L637.74,485.05 L638.89,485.09 L640.04,485.13 L641.19,485.16 L642.34,485.20 L643.49,485.23 L644.63,485.26 L645.78,485.28 L646.93,485.30 L648.08,485.32 L649.23,485.34 L650.38,485.36 L651.53,485.37 L652.68,485.38 L653.82,485.39 L654.97,485.39 L656.12,485.40 L657.27,485.40" fill="none" stroke="#f28c1e" stroke-width="1.45" stroke-linejoin="round"/>
<path d="M405.70,484.85 L406.85,484.75 L408.00,484.61 L409.15,484.43 L410.29,484.22 L411.44,483.99 L412.59,483.74 L413.74,483.48 L414.89,483.19 L416.04,482.90 L417.19,482.58 L418.34,482.24 L419.48,481.86 L420.63,481.45 L421.78,481.00 L422.93,480.53 L424.08,480.02 L425.23,479.50 L426.38,478.95 L427.53,478.38 L428.67,477.78 L429.82,477.14 L430.97,476.46 L432.12,475.74 L433.27,474.98 L434.42,474.20 L435.57,473.40 L436.72,472.58 L437.86,471.76 L439.01,470.94 L440.16,470.11 L441.31,469.28 L442.46,468.43 L443.61,467.57 L444.76,466.69 L445.91,465.77 L447.05,464.82 L448.20,463.84 L449.35,462.79 L450.50,461.69 L451.65,460.52 L452.80,459.27 L453.95,457.96 L455.10,456.62 L456.24,455.24 L457.39,453.85 L458.54,452.43 L459.69,450.97 L460.84,449.45 L461.99,447.90 L463.14,446.35 L464.28,444.86 L465.43,443.47 L466.58,442.21 L467.73,441.08 L468.88,440.04 L470.03,439.05 L471.18,438.11 L472.33,437.23 L473.47,436.41 L474.62,435.67 L475.77,435.02 L476.92,434.47 L478.07,434.01 L479.22,433.62 L480.37,433.27 L481.52,432.94 L482.66,432.64 L483.81,432.37 L484.96,432.14 L486.11,431.96 L487.26,431.83 L488.41,431.75 L489.56,431.72 L490.71,431.74 L491.85,431.79 L493.00,431.87 L494.15,431.97 L495.30,432.08 L496.45,432.21 L497.60,432.35 L498.75,432.50 L499.90,432.66 L501.04,432.84 L502.19,433.04 L503.34,433.27 L504.49,433.54 L505.64,433.82 L506.79,434.13 L507.94,434.46 L509.08,434.79 L510.23,435.14 L511.38,435.49 L512.53,435.86 L513.68,436.25 L514.83,436.67 L515.98,437.10 L517.13,437.54 L518.27,438.01 L519.42,438.48 L520.57,438.96 L521.72,439.45 L522.87,439.95 L524.02,440.46 L525.17,440.98 L526.32,441.52 L527.46,442.07 L528.61,442.63 L529.76,443.21 L530.91,443.79 L532.06,444.39 L533.21,445.01 L534.36,445.64 L535.51,446.29 L536.65,446.95 L537.80,447.64 L538.95,448.34 L540.10,449.05 L541.25,449.78 L542.40,450.53 L543.55,451.30 L544.70,452.09 L545.84,452.91 L546.99,453.74 L548.14,454.57 L549.29,455.42 L550.44,456.25 L551.59,457.09 L552.74,457.91 L553.89,458.72 L555.03,459.53 L556.18,460.33 L557.33,461.14 L558.48,461.94 L559.63,462.74 L560.78,463.54 L561.93,464.34 L563.07,465.15 L564.22,465.97 L565.37,466.82 L566.52,467.69 L567.67,468.57 L568.82,469.45 L569.97,470.30 L571.12,471.12 L572.26,471.87 L573.41,472.55 L574.56,473.17 L575.71,473.73 L576.86,474.27 L578.01,474.80 L579.16,475.30 L580.31,475.76 L581.45,476.16 L582.60,476.49 L583.75,476.74 L584.90,476.89 L586.05,476.95 L587.20,476.96 L588.35,476.94 L589.50,476.90 L590.64,476.86 L591.79,476.80 L592.94,476.74 L594.09,476.67 L595.24,476.59 L596.39,476.49 L597.54,476.35 L598.69,476.16 L599.83,475.91 L600.98,475.63 L602.13,475.32 L603.28,475.03 L604.43,474.77 L605.58,474.57 L606.73,474.44 L607.87,474.38 L609.02,474.39 L610.17,474.44 L611.32,474.53 L612.47,474.64 L613.62,474.78 L614.77,474.93 L615.92,475.10 L617.06,475.29 L618.21,475.50 L619.36,475.76 L620.51,476.09 L621.66,476.48 L622.81,476.94 L623.96,477.44 L625.11,477.95 L626.25,478.48 L627.40,478.99 L628.55,479.47 L629.70,479.92 L630.85,480.37 L632.00,480.80 L633.15,481.24 L634.30,481.68 L635.44,482.09 L636.59,482.49 L637.74,482.85 L638.89,483.17 L640.04,483.45 L641.19,483.70 L642.34,483.93 L643.49,484.14 L644.63,484.34 L645.78,484.53 L646.93,484.69 L648.08,484.84 L649.23,484.97 L650.38,485.07 L651.53,485.16 L652.68,485.23 L653.82,485.29 L654.97,485.34 L656.12,485.37 L657.27,485.39" fill="none" stroke="#000" stroke-width="1.5" stroke-dasharray="5.2,2.3"/>
<line x1="405.7" y1="491.0" x2="405.7" y2="494.2" stroke="#9a9a9a" stroke-width="0.8"/>
<text class="tx" transform="translate(405.70,505.40) scale(1.07,1)" font-size="11.8" text-anchor="middle" fill="#1a1a1a">0.0</text>
<line x1="451.4" y1="491.0" x2="451.4" y2="494.2" stroke="#9a9a9a" stroke-width="0.8"/>
<text class="tx" transform="translate(451.44,505.40) scale(1.07,1)" font-size="11.8" text-anchor="middle" fill="#1a1a1a">0.2</text>
<line x1="497.2" y1="491.0" x2="497.2" y2="494.2" stroke="#9a9a9a" stroke-width="0.8"/>
<text class="tx" transform="translate(497.18,505.40) scale(1.07,1)" font-size="11.8" text-anchor="middle" fill="#1a1a1a">0.4</text>
<line x1="542.9" y1="491.0" x2="542.9" y2="494.2" stroke="#9a9a9a" stroke-width="0.8"/>
<text class="tx" transform="translate(542.92,505.40) scale(1.07,1)" font-size="11.8" text-anchor="middle" fill="#1a1a1a">0.6</text>
<line x1="588.7" y1="491.0" x2="588.7" y2="494.2" stroke="#9a9a9a" stroke-width="0.8"/>
<text class="tx" transform="translate(588.66,505.40) scale(1.07,1)" font-size="11.8" text-anchor="middle" fill="#1a1a1a">0.8</text>
<line x1="634.4" y1="491.0" x2="634.4" y2="494.2" stroke="#9a9a9a" stroke-width="0.8"/>
<text class="tx" transform="translate(634.40,505.40) scale(1.07,1)" font-size="11.8" text-anchor="middle" fill="#1a1a1a">1.0</text>
<line x1="390.2" y1="485.4" x2="393.4" y2="485.4" stroke="#9a9a9a" stroke-width="0.8"/>
<text class="tx" transform="translate(387.10,490.30) scale(1.07,1)" font-size="11.8" text-anchor="end" fill="#1a1a1a">0.00</text>
<line x1="390.2" y1="435.9" x2="393.4" y2="435.9" stroke="#9a9a9a" stroke-width="0.8"/>
<text class="tx" transform="translate(387.10,440.80) scale(1.07,1)" font-size="11.8" text-anchor="end" fill="#1a1a1a">0.02</text>
<line x1="390.2" y1="386.4" x2="393.4" y2="386.4" stroke="#9a9a9a" stroke-width="0.8"/>
<text class="tx" transform="translate(387.10,391.30) scale(1.07,1)" font-size="11.8" text-anchor="end" fill="#1a1a1a">0.04</text>
<text class="tx" transform="translate(531.50,520.30) scale(1.03,1)" font-size="12.3" text-anchor="middle" fill="#1a1a1a">Asphericity Descriptor</text>
<text class="tx" transform="translate(409.00,417.40)" font-size="33.7" text-anchor="start" fill="#000">D</text>
</g>
<g id="legendCD">
<rect x="98.2" y="529" width="525.5" height="32.7" rx="2.2" fill="#fff" stroke="#d4d4d4" stroke-width="0.9"/>
<line x1="103.1" y1="538.9" x2="129.1" y2="538.9" stroke="#ff2a1a" stroke-width="1.4"/>
<text class="tx" x="139.0" y="543.2" font-size="12.2" fill="#1a1a1a">acid</text>
<line x1="103.1" y1="550.3" x2="129.1" y2="550.3" stroke="#707070" stroke-width="1.4"/>
<text class="tx" x="139.0" y="554.6" font-size="12.2" fill="#1a1a1a">direct</text>
<line x1="199.5" y1="538.9" x2="225.5" y2="538.9" stroke="#0000ff" stroke-width="1.4"/>
<text class="tx" x="235.1" y="543.2" font-size="12.2" fill="#1a1a1a">disperse</text>
<line x1="199.5" y1="550.3" x2="225.5" y2="550.3" stroke="#66ffff" stroke-width="1.4"/>
<text class="tx" x="235.1" y="554.6" font-size="12.2" fill="#1a1a1a">pigment</text>
<line x1="312.8" y1="538.9" x2="338.8" y2="538.9" stroke="#ff22ff" stroke-width="1.4"/>
<text class="tx" x="348.4" y="543.2" font-size="12.2" fill="#1a1a1a">solvent</text>
<line x1="312.8" y1="550.3" x2="338.8" y2="550.3" stroke="#ffff22" stroke-width="1.4"/>
<text class="tx" x="348.4" y="554.6" font-size="12.2" fill="#1a1a1a">reactive</text>
<line x1="423.1" y1="538.9" x2="449.1" y2="538.9" stroke="#ffb0c2" stroke-width="1.4"/>
<text class="tx" x="459.6" y="543.2" font-size="12.2" fill="#1a1a1a">mordant</text>
<line x1="423.1" y1="550.3" x2="449.1" y2="550.3" stroke="#8e1a1a" stroke-width="1.4"/>
<text class="tx" x="459.6" y="554.6" font-size="12.2" fill="#1a1a1a">basic</text>
<line x1="537.6" y1="538.9" x2="563.6" y2="538.9" stroke="#f28c1e" stroke-width="1.4"/>
<text class="tx" x="573.8" y="543.2" font-size="12.2" fill="#1a1a1a">vat</text>
<line x1="537.6" y1="550.3" x2="560.1" y2="550.3" stroke="#000" stroke-width="1.5" stroke-dasharray="5.7,2.5"/>
<text class="tx" x="573.8" y="554.6" font-size="12.2" fill="#1a1a1a">natural</text>
</g>
<g id="panelE">
<rect x="184.5" y="585.5" width="341.0" height="139.0" fill="#fff" stroke="none"/>
<rect x="187.98" y="712.59" width="5.20" height="11.91" fill="#ff1a0a" stroke="#000" stroke-width="0.75"/>
<rect x="193.18" y="723.84" width="5.20" height="0.66" fill="#808080" stroke="#000" stroke-width="0.75"/>
<rect x="198.39" y="592.20" width="5.20" height="132.30" fill="#0000ff" stroke="#000" stroke-width="0.75"/>
<rect x="203.59" y="623.95" width="5.20" height="100.55" fill="#7fffff" stroke="#000" stroke-width="0.75"/>
<rect x="208.80" y="620.64" width="5.20" height="103.86" fill="#ff33ff" stroke="#000" stroke-width="0.75"/>
<rect x="214.00" y="672.90" width="5.20" height="51.60" fill="#ffff33" stroke="#000" stroke-width="0.75"/>
<rect x="219.20" y="696.72" width="5.20" height="27.78" fill="#ffb9c9" stroke="#000" stroke-width="0.75"/>
<rect x="224.41" y="595.51" width="5.20" height="128.99" fill="#a82828" stroke="#000" stroke-width="0.75"/>
<rect x="229.61" y="592.20" width="5.20" height="132.30" fill="#f0a030" stroke="#000" stroke-width="0.75"/>
<rect x="234.82" y="611.38" width="5.20" height="113.12" fill="#000000" stroke="#000" stroke-width="0.75"/>
<rect x="250.08" y="678.86" width="5.20" height="45.64" fill="#ff1a0a" stroke="#000" stroke-width="0.75"/>
<rect x="255.28" y="713.25" width="5.20" height="11.25" fill="#808080" stroke="#000" stroke-width="0.75"/>
<rect x="265.69" y="707.30" width="5.20" height="17.20" fill="#7fffff" stroke="#000" stroke-width="0.75"/>
<rect x="270.90" y="708.62" width="5.20" height="15.88" fill="#ff33ff" stroke="#000" stroke-width="0.75"/>
<rect x="276.10" y="717.88" width="5.20" height="6.62" fill="#ffff33" stroke="#000" stroke-width="0.75"/>
<rect x="281.30" y="678.20" width="5.20" height="46.30" fill="#ffb9c9" stroke="#000" stroke-width="0.75"/>
<rect x="286.51" y="722.52" width="5.20" height="1.98" fill="#a82828" stroke="#000" stroke-width="0.75"/>
<rect x="296.92" y="711.93" width="5.20" height="12.57" fill="#000000" stroke="#000" stroke-width="0.75"/>
<rect x="312.18" y="662.98" width="5.20" height="61.52" fill="#ff1a0a" stroke="#000" stroke-width="0.75"/>
<rect x="317.38" y="667.61" width="5.20" height="56.89" fill="#808080" stroke="#000" stroke-width="0.75"/>
<rect x="327.79" y="714.58" width="5.20" height="9.92" fill="#7fffff" stroke="#000" stroke-width="0.75"/>
<rect x="333.00" y="717.88" width="5.20" height="6.62" fill="#ff33ff" stroke="#000" stroke-width="0.75"/>
<rect x="338.20" y="700.02" width="5.20" height="24.48" fill="#ffff33" stroke="#000" stroke-width="0.75"/>
<rect x="343.40" y="682.83" width="5.20" height="41.67" fill="#ffb9c9" stroke="#000" stroke-width="0.75"/>
<rect x="348.61" y="723.84" width="5.20" height="0.66" fill="#a82828" stroke="#000" stroke-width="0.75"/>
<rect x="359.02" y="719.87" width="5.20" height="4.63" fill="#000000" stroke="#000" stroke-width="0.75"/>
<rect x="374.28" y="715.90" width="5.20" height="8.60" fill="#ff1a0a" stroke="#000" stroke-width="0.75"/>
<rect x="379.48" y="689.44" width="5.20" height="35.06" fill="#808080" stroke="#000" stroke-width="0.75"/>
<rect x="389.89" y="723.18" width="5.20" height="1.32" fill="#7fffff" stroke="#000" stroke-width="0.75"/>
<rect x="395.10" y="721.85" width="5.20" height="2.65" fill="#ff33ff" stroke="#000" stroke-width="0.75"/>
<rect x="400.30" y="690.76" width="5.20" height="33.74" fill="#ffff33" stroke="#000" stroke-width="0.75"/>
<rect x="405.50" y="714.58" width="5.20" height="9.92" fill="#ffb9c9" stroke="#000" stroke-width="0.75"/>
<rect x="421.12" y="723.84" width="5.20" height="0.66" fill="#000000" stroke="#000" stroke-width="0.75"/>
<rect x="436.38" y="722.52" width="5.20" height="1.98" fill="#ff1a0a" stroke="#000" stroke-width="0.75"/>
<rect x="441.58" y="698.70" width="5.20" height="25.80" fill="#808080" stroke="#000" stroke-width="0.75"/>
<rect x="451.99" y="724.10" width="5.20" height="0.40" fill="#7fffff" stroke="#000" stroke-width="0.75"/>
<rect x="462.40" y="710.61" width="5.20" height="13.89" fill="#ffff33" stroke="#000" stroke-width="0.75"/>
<rect x="467.60" y="718.55" width="5.20" height="5.95" fill="#ffb9c9" stroke="#000" stroke-width="0.75"/>
<rect x="184.5" y="585.5" width="341.0" height="139.0" fill="none" stroke="#111" stroke-width="1"/>
<line x1="215.2" y1="724.5" x2="215.2" y2="728.8" stroke="#111" stroke-width="0.9"/>
<text class="tx" transform="translate(215.20,742.10) scale(1.08,1)" font-size="13.9" text-anchor="middle" fill="#1a1a1a">0</text>
<line x1="277.3" y1="724.5" x2="277.3" y2="728.8" stroke="#111" stroke-width="0.9"/>
<text class="tx" transform="translate(277.30,742.10) scale(1.08,1)" font-size="13.9" text-anchor="middle" fill="#1a1a1a">1</text>
<line x1="339.4" y1="724.5" x2="339.4" y2="728.8" stroke="#111" stroke-width="0.9"/>
<text class="tx" transform="translate(339.40,742.10) scale(1.08,1)" font-size="13.9" text-anchor="middle" fill="#1a1a1a">2</text>
<line x1="401.5" y1="724.5" x2="401.5" y2="728.8" stroke="#111" stroke-width="0.9"/>
<text class="tx" transform="translate(401.50,742.10) scale(1.08,1)" font-size="13.9" text-anchor="middle" fill="#1a1a1a">3</text>
<line x1="463.6" y1="724.5" x2="463.6" y2="728.8" stroke="#111" stroke-width="0.9"/>
<text class="tx" transform="translate(463.60,742.10) scale(1.08,1)" font-size="13.9" text-anchor="middle" fill="#1a1a1a">4</text>
<line x1="525.7" y1="724.5" x2="525.7" y2="728.8" stroke="#111" stroke-width="0.9"/>
<text class="tx" transform="translate(525.70,742.10) scale(1.08,1)" font-size="13.9" text-anchor="middle" fill="#1a1a1a">5</text>
<line x1="180.2" y1="724.5" x2="184.5" y2="724.5" stroke="#111" stroke-width="0.9"/>
<text class="tx" transform="translate(177.10,729.50) scale(1.08,1)" font-size="13.9" text-anchor="end" fill="#1a1a1a">0.0</text>
<line x1="180.2" y1="658.4" x2="184.5" y2="658.4" stroke="#111" stroke-width="0.9"/>
<text class="tx" transform="translate(177.10,663.35) scale(1.08,1)" font-size="13.9" text-anchor="end" fill="#1a1a1a">0.5</text>
<line x1="180.2" y1="592.2" x2="184.5" y2="592.2" stroke="#111" stroke-width="0.9"/>
<text class="tx" transform="translate(177.10,597.20) scale(1.08,1)" font-size="13.9" text-anchor="end" fill="#1a1a1a">1.0</text>
<text class="tx" transform="translate(145.00,659.50) rotate(-90) scale(1.09,1)" font-size="13.9" text-anchor="middle" fill="#1a1a1a">Distribution Density</text>
<text class="tx" transform="translate(174.40,763.60) scale(1.07,1)" font-size="14.4" text-anchor="start" fill="#1a1a1a" xml:space="preserve">Number of Acidic Groups<tspan dx="2.4"> (-SO</tspan><tspan font-size="10.1" dy="3.8">3</tspan><tspan font-size="8" dy="-10.4" dx="-0.8">−</tspan><tspan dy="6.6" dx="0.7">, -CO</tspan><tspan font-size="10.1" dy="3.8">2</tspan><tspan font-size="8" dy="-10.4" dx="-0.8">−</tspan><tspan dy="6.6" dx="0.7">, -PO</tspan><tspan font-size="10.1" dy="3.8">3</tspan><tspan font-size="10.1" dy="-10.4" dx="-6.4">2</tspan><tspan font-size="8" dx="0.6">−</tspan><tspan dy="6.6" dx="4.4">)</tspan></text>
<rect x="326.7" y="589.1" width="195.4" height="78.3" rx="2.2" fill="#fff" fill-opacity="0.8" stroke="#d0d0d0" stroke-width="0.9"/>
<rect x="330.3" y="595.20" width="23.2" height="7.4" fill="#ff1a0a" stroke="#000" stroke-width="0.75"/>
<text class="tx" transform="translate(363.00,603.10) scale(0.925,1)" font-size="12.2" text-anchor="start" fill="#1a1a1a">acid</text>
<rect x="330.3" y="609.72" width="23.2" height="7.4" fill="#808080" stroke="#000" stroke-width="0.75"/>
<text class="tx" transform="translate(363.00,617.62) scale(0.925,1)" font-size="12.2" text-anchor="start" fill="#1a1a1a">direct</text>
<rect x="330.3" y="624.24" width="23.2" height="7.4" fill="#0000ff" stroke="#000" stroke-width="0.75"/>
<text class="tx" transform="translate(363.00,632.14) scale(0.925,1)" font-size="12.2" text-anchor="start" fill="#1a1a1a">disperse</text>
<rect x="330.3" y="638.76" width="23.2" height="7.4" fill="#7fffff" stroke="#000" stroke-width="0.75"/>
<text class="tx" transform="translate(363.00,646.66) scale(0.925,1)" font-size="12.2" text-anchor="start" fill="#1a1a1a">pigment</text>
<rect x="330.3" y="653.28" width="23.2" height="7.4" fill="#ff33ff" stroke="#000" stroke-width="0.75"/>
<text class="tx" transform="translate(363.00,661.18) scale(0.925,1)" font-size="12.2" text-anchor="start" fill="#1a1a1a">solvent</text>
<rect x="436.0" y="595.20" width="23.2" height="7.4" fill="#ffff33" stroke="#000" stroke-width="0.75"/>
<text class="tx" transform="translate(468.40,603.10) scale(0.925,1)" font-size="12.2" text-anchor="start" fill="#1a1a1a">reactive</text>
<rect x="436.0" y="609.72" width="23.2" height="7.4" fill="#ffb9c9" stroke="#000" stroke-width="0.75"/>
<text class="tx" transform="translate(468.40,617.62) scale(0.925,1)" font-size="12.2" text-anchor="start" fill="#1a1a1a">mordant</text>
<rect x="436.0" y="624.24" width="23.2" height="7.4" fill="#a82828" stroke="#000" stroke-width="0.75"/>
<text class="tx" transform="translate(468.40,632.14) scale(0.925,1)" font-size="12.2" text-anchor="start" fill="#1a1a1a">basic</text>
<rect x="436.0" y="638.76" width="23.2" height="7.4" fill="#f0a030" stroke="#000" stroke-width="0.75"/>
<text class="tx" transform="translate(468.40,646.66) scale(0.925,1)" font-size="12.2" text-anchor="start" fill="#1a1a1a">vat</text>
<rect x="436.0" y="653.28" width="23.2" height="7.4" fill="#000000" stroke="#000" stroke-width="0.75"/>
<text class="tx" transform="translate(468.40,661.18) scale(0.925,1)" font-size="12.2" text-anchor="start" fill="#1a1a1a">natural</text>
<text class="tx" transform="translate(94.80,614.40) scale(1.07,1)" font-size="35" text-anchor="start" fill="#000">E</text>
</g>
</svg>
</body></html>
